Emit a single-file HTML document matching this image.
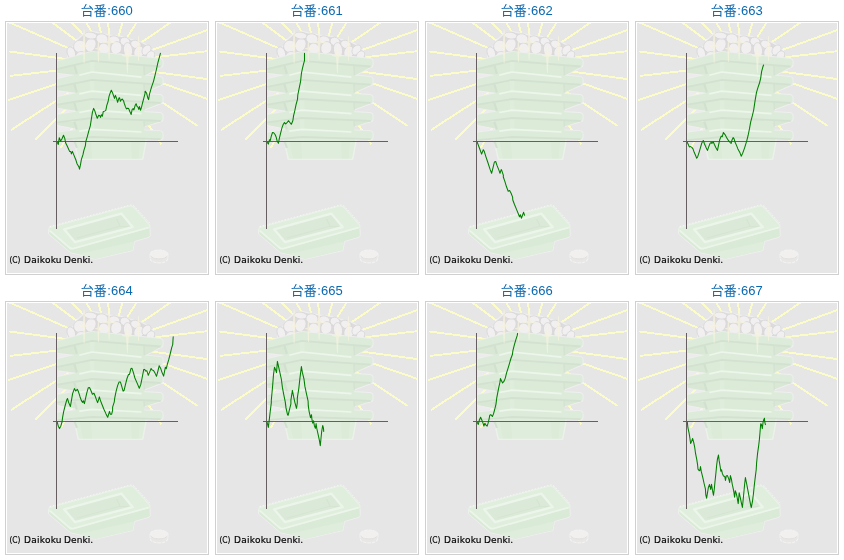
<!DOCTYPE html>
<html lang="ja">
<head>
<meta charset="utf-8">
<title>台番 660-667</title>
<style>
html,body{margin:0;padding:0;background:#fff;}
body{width:844px;height:560px;position:relative;overflow:hidden;font-family:"Liberation Sans","Noto Sans CJK JP",sans-serif;}
.c{position:absolute;width:210px;height:280px;}
.t{position:absolute;left:0;top:3px;width:214px;text-align:center;font-size:13px;line-height:16px;color:#0a69b0;white-space:nowrap;}
.j{position:relative;left:-0.6px;}
.f{position:absolute;left:5px;top:21px;width:200px;height:250px;border:1px solid #d0d0d0;padding:1px;background:#fff;}
.f svg{display:block;width:200px;height:250px;}
</style>
</head>
<body>
<div class="c" style="left:0px;top:0px">
<div class="t"><span class="j">台番</span>:660</div>
<div class="f"><svg width="200" height="250" viewBox="0 0 200 250">
<rect width="200" height="250" fill="#e6e6e6"/>
<polygon points="50.4,102.3 50.4,109.3 67.5,105.5" fill="#ececec"/>
<polygon points="50.4,84.9 50.4,91.5 67.5,87.7" fill="#ececec"/>
<polygon points="50.4,67.5 50.4,73.7 67.5,69.9" fill="#ececec"/>
<polygon points="50.4,50.1 50.4,55.9 67.5,52.1" fill="#ececec"/>
<g stroke="#fcfcc8" stroke-width="1.9" stroke-linecap="butt" shape-rendering="crispEdges">
<line x1="73.8" y1="30.5" x2="1.8" y2="-0.8"/>
<line x1="77.2" y1="23.3" x2="44.4" y2="-1.2"/>
<line x1="84.7" y1="20.7" x2="63.8" y2="-1.5"/>
<line x1="92.7" y1="22.9" x2="78.5" y2="-1.7"/>
<line x1="97.4" y1="23.6" x2="91.0" y2="-1.9"/>
<line x1="103.2" y1="24.0" x2="101.0" y2="-2.0"/>
<line x1="107.8" y1="24.7" x2="116.1" y2="-1.9"/>
<line x1="112.7" y1="26.2" x2="130.4" y2="-1.7"/>
<line x1="124.8" y1="25.8" x2="164.5" y2="-1.1"/>
<line x1="132.4" y1="31.6" x2="201.9" y2="6.5"/>
<line x1="139.5" y1="35.2" x2="202.0" y2="28.0"/>
<line x1="135.9" y1="47.4" x2="202.0" y2="56.3"/>
<line x1="144.3" y1="56.5" x2="201.9" y2="76.4"/>
<line x1="129.3" y1="61.8" x2="190.7" y2="103.0"/>
<line x1="135.1" y1="92.2" x2="154.5" y2="121.5"/>
<line x1="60.2" y1="36.1" x2="2.4" y2="28.5"/>
<line x1="59.7" y1="46.4" x2="3.0" y2="52.9"/>
<line x1="58.0" y1="58.2" x2="0.8" y2="77.3"/>
<line x1="72.8" y1="62.5" x2="4.0" y2="107.0"/>
<line x1="67.1" y1="77.6" x2="28.1" y2="116.7"/>
<line x1="72.8" y1="92.7" x2="53.8" y2="124.7"/>
</g>
<path d="M60.7,34 L61.4,27 L67.1,22.7 L70.7,16.3 L77.9,9.9 L85,8.4 L95,10.6 L105.7,12.7 L114.3,13.4 L123.6,16.3 L134.3,19.1 L141.4,22.7 L145.7,27.7 L148.6,33.4 L149,38 L60,38 Z" fill="#dddbdb" stroke="#efefef" stroke-width="1.2" stroke-linejoin="round"/>
<g fill="#f1efef" stroke="#d6d4d4" stroke-width="0.7">
<ellipse cx="64.3" cy="29.9" rx="4" ry="6.2" transform="rotate(-20 64.3 29.9)"/>
<ellipse cx="72.9" cy="23.4" rx="6.3" ry="6.2" transform="rotate(0 72.9 23.4)"/>
<ellipse cx="83.6" cy="22" rx="5.3" ry="7" transform="rotate(20 83.6 22)"/>
<ellipse cx="83.6" cy="12.6" rx="6.5" ry="3.4" transform="rotate(8 83.6 12.6)"/>
<ellipse cx="95" cy="15.8" rx="6" ry="5" transform="rotate(10 95 15.8)"/>
<ellipse cx="97" cy="26.5" rx="5.5" ry="6.5" transform="rotate(-10 97 26.5)"/>
<ellipse cx="107.5" cy="17" rx="5.5" ry="4" transform="rotate(15 107.5 17)"/>
<ellipse cx="109.3" cy="25" rx="5.5" ry="6.5" transform="rotate(15 109.3 25)"/>
<ellipse cx="118" cy="18.5" rx="5" ry="4.2" transform="rotate(20 118 18.5)"/>
<ellipse cx="121" cy="27" rx="4.5" ry="7.5" transform="rotate(-8 121 27)"/>
<ellipse cx="129" cy="21.5" rx="5.5" ry="4" transform="rotate(25 129 21.5)"/>
<ellipse cx="132" cy="29" rx="5" ry="6" transform="rotate(25 132 29)"/>
<ellipse cx="139.5" cy="27" rx="4" ry="5.5" transform="rotate(35 139.5 27)"/>
<ellipse cx="143.5" cy="32.5" rx="3.8" ry="5" transform="rotate(35 143.5 32.5)"/>
<ellipse cx="74" cy="33" rx="5" ry="4.5" transform="rotate(0 74 33)"/>
<ellipse cx="90" cy="33" rx="5" ry="4.5" transform="rotate(0 90 33)"/>
<ellipse cx="102" cy="34" rx="5" ry="4" transform="rotate(0 102 34)"/>
<ellipse cx="113" cy="34" rx="5" ry="4" transform="rotate(0 113 34)"/>
</g>
<polygon points="50.4,45.8 50.4,49.9 67.0,51.8 70.0,52.1 67.2,41.5" fill="#efefef" stroke="#efefef" stroke-width="1.8" stroke-linejoin="round"/>
<polygon points="154.8,43.5 137.8,52.4 136.6,41.5" fill="#efefef" stroke="#efefef" stroke-width="1.8" stroke-linejoin="round"/>
<path d="M50.4,38.3 L84.5,28.8 L152.8,35.7 Q155.6,36.1 155.6,38.5 L155.6,41.6 Q155.6,44.0 153,43.9 L85,38.0 L50.4,46.3 Z" fill="#efefef" stroke="#efefef" stroke-width="1.8" stroke-linejoin="round"/>
<polygon points="50.4,63.6 50.4,67.3 67.0,69.6 70.0,69.9 67.2,60.6" fill="#efefef" stroke="#efefef" stroke-width="1.8" stroke-linejoin="round"/>
<polygon points="154.8,61.6 137.8,69.3 136.6,59.6" fill="#efefef" stroke="#efefef" stroke-width="1.8" stroke-linejoin="round"/>
<path d="M50.4,56.1 L84.5,47.9 L152.8,53.8 Q155.6,54.2 155.6,56.6 L155.6,59.8 Q155.6,62.1 153,62.0 L85,57.1 L50.4,64.1 Z" fill="#efefef" stroke="#efefef" stroke-width="1.8" stroke-linejoin="round"/>
<polygon points="50.4,81.4 50.4,84.7 67.0,87.4 70.0,87.7 67.2,79.7" fill="#efefef" stroke="#efefef" stroke-width="1.8" stroke-linejoin="round"/>
<polygon points="154.8,79.8 137.8,86.3 136.6,77.8" fill="#efefef" stroke="#efefef" stroke-width="1.8" stroke-linejoin="round"/>
<path d="M50.4,73.9 L84.5,67.0 L152.8,71.9 Q155.6,72.3 155.6,74.7 L155.6,77.9 Q155.6,80.3 153,80.2 L85,76.2 L50.4,81.9 Z" fill="#efefef" stroke="#efefef" stroke-width="1.8" stroke-linejoin="round"/>
<polygon points="50.4,99.2 50.4,102.1 67.0,105.2 70.0,105.5 67.2,98.7" fill="#efefef" stroke="#efefef" stroke-width="1.8" stroke-linejoin="round"/>
<polygon points="154.8,97.9 137.8,103.2 136.6,95.9" fill="#efefef" stroke="#efefef" stroke-width="1.8" stroke-linejoin="round"/>
<path d="M50.4,91.7 L84.5,86.1 L152.8,90.0 Q155.6,90.4 155.6,92.8 L155.6,96.0 Q155.6,98.4 153,98.3 L85,95.2 L50.4,99.7 Z" fill="#efefef" stroke="#efefef" stroke-width="1.8" stroke-linejoin="round"/>
<polygon points="66.0,111.2 137.0,110.3 138.9,118.1 135.5,136.2 71.5,136.2 67.3,117.5" fill="#efefef" stroke="#efefef" stroke-width="1.8" stroke-linejoin="round"/>
<path d="M50.4,109.5 L84.5,105.2 L152.8,108.1 Q155.6,108.5 155.6,110.9 L155.6,114.2 Q155.6,116.6 153,116.5 L85,114.2 L50.4,117.5 Z" fill="#efefef" stroke="#efefef" stroke-width="1.8" stroke-linejoin="round"/>
<polygon points="66.0,34.8 137.0,37.9 137.4,57.0 85.0,51.9 69.5,53.9" fill="#dbebd8"/>
<polygon points="50.4,45.8 50.4,49.9 67.0,51.8 70.0,52.1 67.2,41.5" fill="#d8e8d5"/>
<polygon points="154.8,43.5 137.8,52.4 136.6,41.5" fill="#d8e8d5"/>
<path d="M67.2,41.5 L69.9,50.9" stroke="#d2e1cf" stroke-width="2.2" fill="none"/>
<path d="M137.0,43.0 L137.3,52.9" stroke="#d3e1d0" stroke-width="1.2" fill="none"/>
<polygon points="82.5,38.5 87.3,38.8 87.3,48.2 83.3,48.7" fill="#dfeedc"/>
<path d="M50.4,38.3 L84.5,28.8 L152.8,35.7 Q155.6,36.1 155.6,38.5 L155.6,41.6 Q155.6,44.0 153,43.9 L85,38.0 L50.4,46.3 Z" fill="#ddecda"/>
<polyline points="50.4,46.0 85.0,37.8 153.6,43.5" fill="none" stroke="#d3e1d0" stroke-width="1.8"/>
<polygon points="66.0,53.9 137.0,56.0 137.4,75.1 85.0,71.0 69.5,73.0" fill="#dbebd8"/>
<polygon points="50.4,63.6 50.4,67.3 67.0,69.6 70.0,69.9 67.2,60.6" fill="#d8e8d5"/>
<polygon points="154.8,61.6 137.8,69.3 136.6,59.6" fill="#d8e8d5"/>
<path d="M67.2,60.6 L69.9,69.4" stroke="#d2e1cf" stroke-width="2.2" fill="none"/>
<path d="M137.0,61.1 L137.3,69.8" stroke="#d3e1d0" stroke-width="1.2" fill="none"/>
<polygon points="82.5,57.6 87.3,57.9 87.3,67.3 83.3,67.8" fill="#dfeedc"/>
<path d="M50.4,56.1 L84.5,47.9 L152.8,53.8 Q155.6,54.2 155.6,56.6 L155.6,59.8 Q155.6,62.1 153,62.0 L85,57.1 L50.4,64.1 Z" fill="#ddecda"/>
<polyline points="50.4,63.8 85.0,56.9 153.6,61.6" fill="none" stroke="#d3e1d0" stroke-width="1.8"/>
<polyline points="72.3,52.3 84.8,49.0 134.5,54.1" fill="none" stroke="#edf6eb" stroke-width="1.7"/>
<polygon points="66.0,73.0 137.0,74.1 137.4,93.2 85.0,90.1 69.5,92.1" fill="#dbebd8"/>
<polygon points="50.4,81.4 50.4,84.7 67.0,87.4 70.0,87.7 67.2,79.7" fill="#d8e8d5"/>
<polygon points="154.8,79.8 137.8,86.3 136.6,77.8" fill="#d8e8d5"/>
<path d="M67.2,79.7 L69.9,87.9" stroke="#d2e1cf" stroke-width="2.2" fill="none"/>
<path d="M137.0,79.3 L137.3,86.8" stroke="#d3e1d0" stroke-width="1.2" fill="none"/>
<polygon points="82.5,76.7 87.3,77.0 87.3,86.4 83.3,86.9" fill="#dfeedc"/>
<path d="M50.4,73.9 L84.5,67.0 L152.8,71.9 Q155.6,72.3 155.6,74.7 L155.6,77.9 Q155.6,80.3 153,80.2 L85,76.2 L50.4,81.9 Z" fill="#ddecda"/>
<polyline points="50.4,81.6 85.0,76.0 153.6,79.8" fill="none" stroke="#d3e1d0" stroke-width="1.8"/>
<polyline points="72.3,70.9 84.8,68.1 134.5,72.4" fill="none" stroke="#edf6eb" stroke-width="1.7"/>
<polygon points="66.0,92.1 137.0,92.2 137.4,111.3 85.0,109.2 69.5,111.2" fill="#dbebd8"/>
<polygon points="50.4,99.2 50.4,102.1 67.0,105.2 70.0,105.5 67.2,98.7" fill="#d8e8d5"/>
<polygon points="154.8,97.9 137.8,103.2 136.6,95.9" fill="#d8e8d5"/>
<path d="M67.2,98.7 L69.9,106.4" stroke="#d2e1cf" stroke-width="2.2" fill="none"/>
<path d="M137.0,97.4 L137.3,103.8" stroke="#d3e1d0" stroke-width="1.2" fill="none"/>
<polygon points="82.5,95.7 87.3,96.0 87.3,105.5 83.3,106.0" fill="#dfeedc"/>
<path d="M50.4,91.7 L84.5,86.1 L152.8,90.0 Q155.6,90.4 155.6,92.8 L155.6,96.0 Q155.6,98.4 153,98.3 L85,95.2 L50.4,99.7 Z" fill="#ddecda"/>
<polyline points="50.4,99.4 85.0,95.0 153.6,97.9" fill="none" stroke="#d3e1d0" stroke-width="1.8"/>
<polyline points="72.3,89.5 84.8,87.2 134.5,90.7" fill="none" stroke="#edf6eb" stroke-width="1.7"/>
<polygon points="66.0,111.2 137.0,110.3 138.9,118.1 135.5,136.2 71.5,136.2 67.3,117.5" fill="#dfeddc" stroke="#ecf3ea" stroke-width="1"/>
<polygon points="73.0,119.0 84.0,119.0 85.0,135.4 76.0,135.4" fill="#dbebd8"/>
<polygon points="124.0,119.0 133.0,119.0 131.5,135.4 125.0,135.4" fill="#dbebd8"/>
<path d="M67.2,117.8 L69.9,124.9" stroke="#d2e1cf" stroke-width="2.2" fill="none"/>
<path d="M50.4,109.5 L84.5,105.2 L152.8,108.1 Q155.6,108.5 155.6,110.9 L155.6,114.2 Q155.6,116.6 153,116.5 L85,114.2 L50.4,117.5 Z" fill="#ddecda"/>
<polyline points="50.4,117.2 85.0,114.0 153.6,116.1" fill="none" stroke="#d3e1d0" stroke-width="1.8"/>
<polyline points="72.3,108.1 84.8,106.3 134.5,109.0" fill="none" stroke="#edf6eb" stroke-width="1.7"/>
<path d="M76.7,6.3 L77.5,6.3 L78.4,21.4 L83.6,22.4 L83.6,23.0 L78.4,24.0 L77.5,40.6 L76.7,40.6 L75.8,24.0 L71.0,23.0 L71.0,22.4 L75.8,21.4 Z" fill="#f5f3de" fill-opacity="0.75"/>
<path d="M91.0,17.4 L91.8,17.4 L92.3,24.7 L96.4,25.3 L96.4,25.9 L92.3,26.5 L91.8,39.1 L91.0,39.1 L90.5,26.5 L87.9,25.9 L87.9,25.3 L90.5,24.7 Z" fill="#f5f3de" fill-opacity="0.75"/>
<path d="M101.7,7.0 L102.5,7.0 L103.4,17.8 L109.3,18.8 L109.3,19.4 L103.4,20.4 L102.5,36.8 L101.7,36.8 L100.8,20.4 L95.7,19.4 L95.7,18.8 L100.8,17.8 Z" fill="#f5f3de" fill-opacity="0.75"/>
<path d="M120.0,22.0 L120.8,22.0 L121.7,31.3 L125.6,32.3 L125.6,32.9 L121.7,33.9 L120.8,50.0 L120.0,50.0 L119.1,33.9 L115.0,32.9 L115.0,32.3 L119.1,31.3 Z" fill="#f5f3de" fill-opacity="0.75"/>
<path d="M131.1,13.0 L131.9,13.0 L132.4,23.2 L134.5,23.8 L134.5,24.4 L132.4,25.0 L131.9,37.8 L131.1,37.8 L130.6,25.0 L128.5,24.4 L128.5,23.8 L130.6,23.2 Z" fill="#f5f3de" fill-opacity="0.75"/>
<g>
<path d="M63.6,226 L142.9,204 L143.3,212.5 Q143,214 141,214.6 L127.5,218.5 L126,227.5 L88,236.3 L71,231.5 L63.6,229.8 L41.6,211 L41.6,206 Z" fill="#d9ead6" stroke="#efefef" stroke-width="1" stroke-linejoin="round"/>
<path d="M72,231 L126.5,218.5 L125.8,227 L88,236 Z" fill="#dfeddc"/>
<path d="M43.2,204.3 Q40.5,205.8 42.7,208 L62,224.7 Q64,226.5 67,225.7 L141,205 Q144.2,203.8 142.2,201.5 L127,184.5 Q125,182.5 122,183.2 Z" fill="#e0eedd" stroke="#e8f2e6" stroke-width="1.2"/>
<path d="M43,207.6 L62.6,224.6 Q64.3,226 67,225.2 L141.6,204.4" fill="none" stroke="#ebf5e9" stroke-width="1.6" stroke-linejoin="round"/>
<path d="M42.6,203.6 L122,182.3 Q125.6,181.5 127.8,183.8 L143.3,200.8" fill="none" stroke="#f6f6f6" stroke-width="0.9" stroke-dasharray="1.6 1.6"/>
<path d="M57.1,206.3 L114.3,190.6 L125.7,204.1 L67.9,219.1 Z" fill="#dbead8" stroke="#ecf5ea" stroke-width="2.3" stroke-linejoin="round"/>
<path d="M70,215 L112,203.5 L121.5,203.5" fill="none" stroke="#d5e5d2" stroke-width="1"/>
<path d="M109.5,196 L113,203" fill="none" stroke="#d5e5d2" stroke-width="1.4"/>
</g>
<g><path d="M143.2,231.3 L143.2,235.7 A8.8,4.2 0 0 0 160.8,235.7 L160.8,231.3 Z" fill="#e9e7e6" stroke="#f2f2f2" stroke-width="1.1" stroke-dasharray="3.6 0.8"/><ellipse cx="152" cy="231.3" rx="8.8" ry="4.2" fill="#f2f0ef" stroke="#f2f2f2" stroke-width="1.1" stroke-dasharray="3.6 0.8"/><path d="M143.6,232.6 A8.6,4.1 0 0 0 160.4,232.6" fill="none" stroke="#dddbda" stroke-width="0.7"/></g>
<rect x="49" y="30" width="1" height="176" fill="#675e61"/><rect x="46" y="118" width="125" height="1" fill="#675e61"/>
<polyline points="49.9,118.8 51.3,121.4 52.3,114.7 53.6,118.1 55,115.7 56.5,112.2 57.7,115.2 58.7,120.1 60.2,123 62.6,128.4 63.8,128.6 64.4,130.9 65.4,128.4 66.6,131.4 69,137.3 70,140.7 72,144.1 72.5,146.1 73.4,142.2 74.4,136.3 75.9,131.9 76.9,127.4 78.4,122.7 78.8,118.6 80.3,113.7 81.8,107.8 83.3,102.9 84.2,97 85.4,89.3 86.6,85.4 87.8,87.8 89,91.8 90.3,95.2 91.7,92.3 92.9,92.8 93.5,94.4 94.5,91.8 95.4,93.2 96.2,88.8 97.6,88.1 98.8,87.4 99.8,82.4 101.1,78.5 102.1,73.1 103.3,69.7 104.3,67.2 105.5,69.7 106.5,72.6 107.5,75.4 108.4,72.4 109.6,75.4 110.6,79.3 111.9,75.1 112.6,74.8 113.4,78.3 114.5,76.4 115.3,76.1 116.5,77.7 117.3,80.5 118.5,83.9 119.4,85.9 120.4,85.2 121.7,85.6 122.7,88.3 124.2,91.5 125.1,86.6 126.1,85.6 126.9,86.9 128.1,82.6 129.1,80.7 130,83.4 131,84.2 131.8,86.4 132.5,83.6 133.5,87.2 134.5,84.4 135.4,80.5 136.7,75.6 138,70.7 138.1,68.2 139.6,70.1 140.8,75 141.6,76.6 142.5,71.1 144.5,64.2 146.5,58.3 148,52.4 149.4,46.5 150.9,39.7 152.2,34.8 153.4,30.3" fill="none" stroke="#007e00" stroke-width="1.05" stroke-linejoin="round" stroke-linecap="round"/>
<text x="2.4" y="240" font-family="'DejaVu Sans','Liberation Sans',sans-serif" font-size="9" fill="#000" stroke="#000" stroke-width="0.18"><tspan x="2.4" textLength="11" lengthAdjust="spacingAndGlyphs">(C)</tspan> <tspan x="17.05" textLength="37.5" lengthAdjust="spacing">Daikoku</tspan> <tspan x="57.1" textLength="29" lengthAdjust="spacing">Denki.</tspan></text>
</svg></div>
</div>
<div class="c" style="left:210px;top:0px">
<div class="t"><span class="j">台番</span>:661</div>
<div class="f"><svg width="200" height="250" viewBox="0 0 200 250">
<rect width="200" height="250" fill="#e6e6e6"/>
<polygon points="50.4,102.3 50.4,109.3 67.5,105.5" fill="#ececec"/>
<polygon points="50.4,84.9 50.4,91.5 67.5,87.7" fill="#ececec"/>
<polygon points="50.4,67.5 50.4,73.7 67.5,69.9" fill="#ececec"/>
<polygon points="50.4,50.1 50.4,55.9 67.5,52.1" fill="#ececec"/>
<g stroke="#fcfcc8" stroke-width="1.9" stroke-linecap="butt" shape-rendering="crispEdges">
<line x1="73.8" y1="30.5" x2="1.8" y2="-0.8"/>
<line x1="77.2" y1="23.3" x2="44.4" y2="-1.2"/>
<line x1="84.7" y1="20.7" x2="63.8" y2="-1.5"/>
<line x1="92.7" y1="22.9" x2="78.5" y2="-1.7"/>
<line x1="97.4" y1="23.6" x2="91.0" y2="-1.9"/>
<line x1="103.2" y1="24.0" x2="101.0" y2="-2.0"/>
<line x1="107.8" y1="24.7" x2="116.1" y2="-1.9"/>
<line x1="112.7" y1="26.2" x2="130.4" y2="-1.7"/>
<line x1="124.8" y1="25.8" x2="164.5" y2="-1.1"/>
<line x1="132.4" y1="31.6" x2="201.9" y2="6.5"/>
<line x1="139.5" y1="35.2" x2="202.0" y2="28.0"/>
<line x1="135.9" y1="47.4" x2="202.0" y2="56.3"/>
<line x1="144.3" y1="56.5" x2="201.9" y2="76.4"/>
<line x1="129.3" y1="61.8" x2="190.7" y2="103.0"/>
<line x1="135.1" y1="92.2" x2="154.5" y2="121.5"/>
<line x1="60.2" y1="36.1" x2="2.4" y2="28.5"/>
<line x1="59.7" y1="46.4" x2="3.0" y2="52.9"/>
<line x1="58.0" y1="58.2" x2="0.8" y2="77.3"/>
<line x1="72.8" y1="62.5" x2="4.0" y2="107.0"/>
<line x1="67.1" y1="77.6" x2="28.1" y2="116.7"/>
<line x1="72.8" y1="92.7" x2="53.8" y2="124.7"/>
</g>
<path d="M60.7,34 L61.4,27 L67.1,22.7 L70.7,16.3 L77.9,9.9 L85,8.4 L95,10.6 L105.7,12.7 L114.3,13.4 L123.6,16.3 L134.3,19.1 L141.4,22.7 L145.7,27.7 L148.6,33.4 L149,38 L60,38 Z" fill="#dddbdb" stroke="#efefef" stroke-width="1.2" stroke-linejoin="round"/>
<g fill="#f1efef" stroke="#d6d4d4" stroke-width="0.7">
<ellipse cx="64.3" cy="29.9" rx="4" ry="6.2" transform="rotate(-20 64.3 29.9)"/>
<ellipse cx="72.9" cy="23.4" rx="6.3" ry="6.2" transform="rotate(0 72.9 23.4)"/>
<ellipse cx="83.6" cy="22" rx="5.3" ry="7" transform="rotate(20 83.6 22)"/>
<ellipse cx="83.6" cy="12.6" rx="6.5" ry="3.4" transform="rotate(8 83.6 12.6)"/>
<ellipse cx="95" cy="15.8" rx="6" ry="5" transform="rotate(10 95 15.8)"/>
<ellipse cx="97" cy="26.5" rx="5.5" ry="6.5" transform="rotate(-10 97 26.5)"/>
<ellipse cx="107.5" cy="17" rx="5.5" ry="4" transform="rotate(15 107.5 17)"/>
<ellipse cx="109.3" cy="25" rx="5.5" ry="6.5" transform="rotate(15 109.3 25)"/>
<ellipse cx="118" cy="18.5" rx="5" ry="4.2" transform="rotate(20 118 18.5)"/>
<ellipse cx="121" cy="27" rx="4.5" ry="7.5" transform="rotate(-8 121 27)"/>
<ellipse cx="129" cy="21.5" rx="5.5" ry="4" transform="rotate(25 129 21.5)"/>
<ellipse cx="132" cy="29" rx="5" ry="6" transform="rotate(25 132 29)"/>
<ellipse cx="139.5" cy="27" rx="4" ry="5.5" transform="rotate(35 139.5 27)"/>
<ellipse cx="143.5" cy="32.5" rx="3.8" ry="5" transform="rotate(35 143.5 32.5)"/>
<ellipse cx="74" cy="33" rx="5" ry="4.5" transform="rotate(0 74 33)"/>
<ellipse cx="90" cy="33" rx="5" ry="4.5" transform="rotate(0 90 33)"/>
<ellipse cx="102" cy="34" rx="5" ry="4" transform="rotate(0 102 34)"/>
<ellipse cx="113" cy="34" rx="5" ry="4" transform="rotate(0 113 34)"/>
</g>
<polygon points="50.4,45.8 50.4,49.9 67.0,51.8 70.0,52.1 67.2,41.5" fill="#efefef" stroke="#efefef" stroke-width="1.8" stroke-linejoin="round"/>
<polygon points="154.8,43.5 137.8,52.4 136.6,41.5" fill="#efefef" stroke="#efefef" stroke-width="1.8" stroke-linejoin="round"/>
<path d="M50.4,38.3 L84.5,28.8 L152.8,35.7 Q155.6,36.1 155.6,38.5 L155.6,41.6 Q155.6,44.0 153,43.9 L85,38.0 L50.4,46.3 Z" fill="#efefef" stroke="#efefef" stroke-width="1.8" stroke-linejoin="round"/>
<polygon points="50.4,63.6 50.4,67.3 67.0,69.6 70.0,69.9 67.2,60.6" fill="#efefef" stroke="#efefef" stroke-width="1.8" stroke-linejoin="round"/>
<polygon points="154.8,61.6 137.8,69.3 136.6,59.6" fill="#efefef" stroke="#efefef" stroke-width="1.8" stroke-linejoin="round"/>
<path d="M50.4,56.1 L84.5,47.9 L152.8,53.8 Q155.6,54.2 155.6,56.6 L155.6,59.8 Q155.6,62.1 153,62.0 L85,57.1 L50.4,64.1 Z" fill="#efefef" stroke="#efefef" stroke-width="1.8" stroke-linejoin="round"/>
<polygon points="50.4,81.4 50.4,84.7 67.0,87.4 70.0,87.7 67.2,79.7" fill="#efefef" stroke="#efefef" stroke-width="1.8" stroke-linejoin="round"/>
<polygon points="154.8,79.8 137.8,86.3 136.6,77.8" fill="#efefef" stroke="#efefef" stroke-width="1.8" stroke-linejoin="round"/>
<path d="M50.4,73.9 L84.5,67.0 L152.8,71.9 Q155.6,72.3 155.6,74.7 L155.6,77.9 Q155.6,80.3 153,80.2 L85,76.2 L50.4,81.9 Z" fill="#efefef" stroke="#efefef" stroke-width="1.8" stroke-linejoin="round"/>
<polygon points="50.4,99.2 50.4,102.1 67.0,105.2 70.0,105.5 67.2,98.7" fill="#efefef" stroke="#efefef" stroke-width="1.8" stroke-linejoin="round"/>
<polygon points="154.8,97.9 137.8,103.2 136.6,95.9" fill="#efefef" stroke="#efefef" stroke-width="1.8" stroke-linejoin="round"/>
<path d="M50.4,91.7 L84.5,86.1 L152.8,90.0 Q155.6,90.4 155.6,92.8 L155.6,96.0 Q155.6,98.4 153,98.3 L85,95.2 L50.4,99.7 Z" fill="#efefef" stroke="#efefef" stroke-width="1.8" stroke-linejoin="round"/>
<polygon points="66.0,111.2 137.0,110.3 138.9,118.1 135.5,136.2 71.5,136.2 67.3,117.5" fill="#efefef" stroke="#efefef" stroke-width="1.8" stroke-linejoin="round"/>
<path d="M50.4,109.5 L84.5,105.2 L152.8,108.1 Q155.6,108.5 155.6,110.9 L155.6,114.2 Q155.6,116.6 153,116.5 L85,114.2 L50.4,117.5 Z" fill="#efefef" stroke="#efefef" stroke-width="1.8" stroke-linejoin="round"/>
<polygon points="66.0,34.8 137.0,37.9 137.4,57.0 85.0,51.9 69.5,53.9" fill="#dbebd8"/>
<polygon points="50.4,45.8 50.4,49.9 67.0,51.8 70.0,52.1 67.2,41.5" fill="#d8e8d5"/>
<polygon points="154.8,43.5 137.8,52.4 136.6,41.5" fill="#d8e8d5"/>
<path d="M67.2,41.5 L69.9,50.9" stroke="#d2e1cf" stroke-width="2.2" fill="none"/>
<path d="M137.0,43.0 L137.3,52.9" stroke="#d3e1d0" stroke-width="1.2" fill="none"/>
<polygon points="82.5,38.5 87.3,38.8 87.3,48.2 83.3,48.7" fill="#dfeedc"/>
<path d="M50.4,38.3 L84.5,28.8 L152.8,35.7 Q155.6,36.1 155.6,38.5 L155.6,41.6 Q155.6,44.0 153,43.9 L85,38.0 L50.4,46.3 Z" fill="#ddecda"/>
<polyline points="50.4,46.0 85.0,37.8 153.6,43.5" fill="none" stroke="#d3e1d0" stroke-width="1.8"/>
<polygon points="66.0,53.9 137.0,56.0 137.4,75.1 85.0,71.0 69.5,73.0" fill="#dbebd8"/>
<polygon points="50.4,63.6 50.4,67.3 67.0,69.6 70.0,69.9 67.2,60.6" fill="#d8e8d5"/>
<polygon points="154.8,61.6 137.8,69.3 136.6,59.6" fill="#d8e8d5"/>
<path d="M67.2,60.6 L69.9,69.4" stroke="#d2e1cf" stroke-width="2.2" fill="none"/>
<path d="M137.0,61.1 L137.3,69.8" stroke="#d3e1d0" stroke-width="1.2" fill="none"/>
<polygon points="82.5,57.6 87.3,57.9 87.3,67.3 83.3,67.8" fill="#dfeedc"/>
<path d="M50.4,56.1 L84.5,47.9 L152.8,53.8 Q155.6,54.2 155.6,56.6 L155.6,59.8 Q155.6,62.1 153,62.0 L85,57.1 L50.4,64.1 Z" fill="#ddecda"/>
<polyline points="50.4,63.8 85.0,56.9 153.6,61.6" fill="none" stroke="#d3e1d0" stroke-width="1.8"/>
<polyline points="72.3,52.3 84.8,49.0 134.5,54.1" fill="none" stroke="#edf6eb" stroke-width="1.7"/>
<polygon points="66.0,73.0 137.0,74.1 137.4,93.2 85.0,90.1 69.5,92.1" fill="#dbebd8"/>
<polygon points="50.4,81.4 50.4,84.7 67.0,87.4 70.0,87.7 67.2,79.7" fill="#d8e8d5"/>
<polygon points="154.8,79.8 137.8,86.3 136.6,77.8" fill="#d8e8d5"/>
<path d="M67.2,79.7 L69.9,87.9" stroke="#d2e1cf" stroke-width="2.2" fill="none"/>
<path d="M137.0,79.3 L137.3,86.8" stroke="#d3e1d0" stroke-width="1.2" fill="none"/>
<polygon points="82.5,76.7 87.3,77.0 87.3,86.4 83.3,86.9" fill="#dfeedc"/>
<path d="M50.4,73.9 L84.5,67.0 L152.8,71.9 Q155.6,72.3 155.6,74.7 L155.6,77.9 Q155.6,80.3 153,80.2 L85,76.2 L50.4,81.9 Z" fill="#ddecda"/>
<polyline points="50.4,81.6 85.0,76.0 153.6,79.8" fill="none" stroke="#d3e1d0" stroke-width="1.8"/>
<polyline points="72.3,70.9 84.8,68.1 134.5,72.4" fill="none" stroke="#edf6eb" stroke-width="1.7"/>
<polygon points="66.0,92.1 137.0,92.2 137.4,111.3 85.0,109.2 69.5,111.2" fill="#dbebd8"/>
<polygon points="50.4,99.2 50.4,102.1 67.0,105.2 70.0,105.5 67.2,98.7" fill="#d8e8d5"/>
<polygon points="154.8,97.9 137.8,103.2 136.6,95.9" fill="#d8e8d5"/>
<path d="M67.2,98.7 L69.9,106.4" stroke="#d2e1cf" stroke-width="2.2" fill="none"/>
<path d="M137.0,97.4 L137.3,103.8" stroke="#d3e1d0" stroke-width="1.2" fill="none"/>
<polygon points="82.5,95.7 87.3,96.0 87.3,105.5 83.3,106.0" fill="#dfeedc"/>
<path d="M50.4,91.7 L84.5,86.1 L152.8,90.0 Q155.6,90.4 155.6,92.8 L155.6,96.0 Q155.6,98.4 153,98.3 L85,95.2 L50.4,99.7 Z" fill="#ddecda"/>
<polyline points="50.4,99.4 85.0,95.0 153.6,97.9" fill="none" stroke="#d3e1d0" stroke-width="1.8"/>
<polyline points="72.3,89.5 84.8,87.2 134.5,90.7" fill="none" stroke="#edf6eb" stroke-width="1.7"/>
<polygon points="66.0,111.2 137.0,110.3 138.9,118.1 135.5,136.2 71.5,136.2 67.3,117.5" fill="#dfeddc" stroke="#ecf3ea" stroke-width="1"/>
<polygon points="73.0,119.0 84.0,119.0 85.0,135.4 76.0,135.4" fill="#dbebd8"/>
<polygon points="124.0,119.0 133.0,119.0 131.5,135.4 125.0,135.4" fill="#dbebd8"/>
<path d="M67.2,117.8 L69.9,124.9" stroke="#d2e1cf" stroke-width="2.2" fill="none"/>
<path d="M50.4,109.5 L84.5,105.2 L152.8,108.1 Q155.6,108.5 155.6,110.9 L155.6,114.2 Q155.6,116.6 153,116.5 L85,114.2 L50.4,117.5 Z" fill="#ddecda"/>
<polyline points="50.4,117.2 85.0,114.0 153.6,116.1" fill="none" stroke="#d3e1d0" stroke-width="1.8"/>
<polyline points="72.3,108.1 84.8,106.3 134.5,109.0" fill="none" stroke="#edf6eb" stroke-width="1.7"/>
<path d="M76.7,6.3 L77.5,6.3 L78.4,21.4 L83.6,22.4 L83.6,23.0 L78.4,24.0 L77.5,40.6 L76.7,40.6 L75.8,24.0 L71.0,23.0 L71.0,22.4 L75.8,21.4 Z" fill="#f5f3de" fill-opacity="0.75"/>
<path d="M91.0,17.4 L91.8,17.4 L92.3,24.7 L96.4,25.3 L96.4,25.9 L92.3,26.5 L91.8,39.1 L91.0,39.1 L90.5,26.5 L87.9,25.9 L87.9,25.3 L90.5,24.7 Z" fill="#f5f3de" fill-opacity="0.75"/>
<path d="M101.7,7.0 L102.5,7.0 L103.4,17.8 L109.3,18.8 L109.3,19.4 L103.4,20.4 L102.5,36.8 L101.7,36.8 L100.8,20.4 L95.7,19.4 L95.7,18.8 L100.8,17.8 Z" fill="#f5f3de" fill-opacity="0.75"/>
<path d="M120.0,22.0 L120.8,22.0 L121.7,31.3 L125.6,32.3 L125.6,32.9 L121.7,33.9 L120.8,50.0 L120.0,50.0 L119.1,33.9 L115.0,32.9 L115.0,32.3 L119.1,31.3 Z" fill="#f5f3de" fill-opacity="0.75"/>
<path d="M131.1,13.0 L131.9,13.0 L132.4,23.2 L134.5,23.8 L134.5,24.4 L132.4,25.0 L131.9,37.8 L131.1,37.8 L130.6,25.0 L128.5,24.4 L128.5,23.8 L130.6,23.2 Z" fill="#f5f3de" fill-opacity="0.75"/>
<g>
<path d="M63.6,226 L142.9,204 L143.3,212.5 Q143,214 141,214.6 L127.5,218.5 L126,227.5 L88,236.3 L71,231.5 L63.6,229.8 L41.6,211 L41.6,206 Z" fill="#d9ead6" stroke="#efefef" stroke-width="1" stroke-linejoin="round"/>
<path d="M72,231 L126.5,218.5 L125.8,227 L88,236 Z" fill="#dfeddc"/>
<path d="M43.2,204.3 Q40.5,205.8 42.7,208 L62,224.7 Q64,226.5 67,225.7 L141,205 Q144.2,203.8 142.2,201.5 L127,184.5 Q125,182.5 122,183.2 Z" fill="#e0eedd" stroke="#e8f2e6" stroke-width="1.2"/>
<path d="M43,207.6 L62.6,224.6 Q64.3,226 67,225.2 L141.6,204.4" fill="none" stroke="#ebf5e9" stroke-width="1.6" stroke-linejoin="round"/>
<path d="M42.6,203.6 L122,182.3 Q125.6,181.5 127.8,183.8 L143.3,200.8" fill="none" stroke="#f6f6f6" stroke-width="0.9" stroke-dasharray="1.6 1.6"/>
<path d="M57.1,206.3 L114.3,190.6 L125.7,204.1 L67.9,219.1 Z" fill="#dbead8" stroke="#ecf5ea" stroke-width="2.3" stroke-linejoin="round"/>
<path d="M70,215 L112,203.5 L121.5,203.5" fill="none" stroke="#d5e5d2" stroke-width="1"/>
<path d="M109.5,196 L113,203" fill="none" stroke="#d5e5d2" stroke-width="1.4"/>
</g>
<g><path d="M143.2,231.3 L143.2,235.7 A8.8,4.2 0 0 0 160.8,235.7 L160.8,231.3 Z" fill="#e9e7e6" stroke="#f2f2f2" stroke-width="1.1" stroke-dasharray="3.6 0.8"/><ellipse cx="152" cy="231.3" rx="8.8" ry="4.2" fill="#f2f0ef" stroke="#f2f2f2" stroke-width="1.1" stroke-dasharray="3.6 0.8"/><path d="M143.6,232.6 A8.6,4.1 0 0 0 160.4,232.6" fill="none" stroke="#dddbda" stroke-width="0.7"/></g>
<rect x="49" y="30" width="1" height="176" fill="#675e61"/><rect x="46" y="118" width="125" height="1" fill="#675e61"/>
<polyline points="50,118.9 51.3,121.1 52.6,116.7 53.3,117.4 54.3,113.2 55.5,109.5 56.7,109.8 58.2,111.8 59.2,114.2 60.1,118 61.4,120.3 62.4,115.2 63.8,109.3 65.1,104.4 66.3,101.3 67.5,99.5 68.7,101 70,99.7 71.4,97.7 72.9,99.5 74.4,101.3 75.9,97.5 76.5,93.1 77.8,87.7 79.1,81.3 80.5,76.4 80.8,72 82.4,64.2 83.6,58.3 84.4,50.5 85.4,45.6 86.5,41.1 87.5,37.7 87.5,30.3" fill="none" stroke="#007e00" stroke-width="1.05" stroke-linejoin="round" stroke-linecap="round"/>
<text x="2.4" y="240" font-family="'DejaVu Sans','Liberation Sans',sans-serif" font-size="9" fill="#000" stroke="#000" stroke-width="0.18"><tspan x="2.4" textLength="11" lengthAdjust="spacingAndGlyphs">(C)</tspan> <tspan x="17.05" textLength="37.5" lengthAdjust="spacing">Daikoku</tspan> <tspan x="57.1" textLength="29" lengthAdjust="spacing">Denki.</tspan></text>
</svg></div>
</div>
<div class="c" style="left:420px;top:0px">
<div class="t"><span class="j">台番</span>:662</div>
<div class="f"><svg width="200" height="250" viewBox="0 0 200 250">
<rect width="200" height="250" fill="#e6e6e6"/>
<polygon points="50.4,102.3 50.4,109.3 67.5,105.5" fill="#ececec"/>
<polygon points="50.4,84.9 50.4,91.5 67.5,87.7" fill="#ececec"/>
<polygon points="50.4,67.5 50.4,73.7 67.5,69.9" fill="#ececec"/>
<polygon points="50.4,50.1 50.4,55.9 67.5,52.1" fill="#ececec"/>
<g stroke="#fcfcc8" stroke-width="1.9" stroke-linecap="butt" shape-rendering="crispEdges">
<line x1="73.8" y1="30.5" x2="1.8" y2="-0.8"/>
<line x1="77.2" y1="23.3" x2="44.4" y2="-1.2"/>
<line x1="84.7" y1="20.7" x2="63.8" y2="-1.5"/>
<line x1="92.7" y1="22.9" x2="78.5" y2="-1.7"/>
<line x1="97.4" y1="23.6" x2="91.0" y2="-1.9"/>
<line x1="103.2" y1="24.0" x2="101.0" y2="-2.0"/>
<line x1="107.8" y1="24.7" x2="116.1" y2="-1.9"/>
<line x1="112.7" y1="26.2" x2="130.4" y2="-1.7"/>
<line x1="124.8" y1="25.8" x2="164.5" y2="-1.1"/>
<line x1="132.4" y1="31.6" x2="201.9" y2="6.5"/>
<line x1="139.5" y1="35.2" x2="202.0" y2="28.0"/>
<line x1="135.9" y1="47.4" x2="202.0" y2="56.3"/>
<line x1="144.3" y1="56.5" x2="201.9" y2="76.4"/>
<line x1="129.3" y1="61.8" x2="190.7" y2="103.0"/>
<line x1="135.1" y1="92.2" x2="154.5" y2="121.5"/>
<line x1="60.2" y1="36.1" x2="2.4" y2="28.5"/>
<line x1="59.7" y1="46.4" x2="3.0" y2="52.9"/>
<line x1="58.0" y1="58.2" x2="0.8" y2="77.3"/>
<line x1="72.8" y1="62.5" x2="4.0" y2="107.0"/>
<line x1="67.1" y1="77.6" x2="28.1" y2="116.7"/>
<line x1="72.8" y1="92.7" x2="53.8" y2="124.7"/>
</g>
<path d="M60.7,34 L61.4,27 L67.1,22.7 L70.7,16.3 L77.9,9.9 L85,8.4 L95,10.6 L105.7,12.7 L114.3,13.4 L123.6,16.3 L134.3,19.1 L141.4,22.7 L145.7,27.7 L148.6,33.4 L149,38 L60,38 Z" fill="#dddbdb" stroke="#efefef" stroke-width="1.2" stroke-linejoin="round"/>
<g fill="#f1efef" stroke="#d6d4d4" stroke-width="0.7">
<ellipse cx="64.3" cy="29.9" rx="4" ry="6.2" transform="rotate(-20 64.3 29.9)"/>
<ellipse cx="72.9" cy="23.4" rx="6.3" ry="6.2" transform="rotate(0 72.9 23.4)"/>
<ellipse cx="83.6" cy="22" rx="5.3" ry="7" transform="rotate(20 83.6 22)"/>
<ellipse cx="83.6" cy="12.6" rx="6.5" ry="3.4" transform="rotate(8 83.6 12.6)"/>
<ellipse cx="95" cy="15.8" rx="6" ry="5" transform="rotate(10 95 15.8)"/>
<ellipse cx="97" cy="26.5" rx="5.5" ry="6.5" transform="rotate(-10 97 26.5)"/>
<ellipse cx="107.5" cy="17" rx="5.5" ry="4" transform="rotate(15 107.5 17)"/>
<ellipse cx="109.3" cy="25" rx="5.5" ry="6.5" transform="rotate(15 109.3 25)"/>
<ellipse cx="118" cy="18.5" rx="5" ry="4.2" transform="rotate(20 118 18.5)"/>
<ellipse cx="121" cy="27" rx="4.5" ry="7.5" transform="rotate(-8 121 27)"/>
<ellipse cx="129" cy="21.5" rx="5.5" ry="4" transform="rotate(25 129 21.5)"/>
<ellipse cx="132" cy="29" rx="5" ry="6" transform="rotate(25 132 29)"/>
<ellipse cx="139.5" cy="27" rx="4" ry="5.5" transform="rotate(35 139.5 27)"/>
<ellipse cx="143.5" cy="32.5" rx="3.8" ry="5" transform="rotate(35 143.5 32.5)"/>
<ellipse cx="74" cy="33" rx="5" ry="4.5" transform="rotate(0 74 33)"/>
<ellipse cx="90" cy="33" rx="5" ry="4.5" transform="rotate(0 90 33)"/>
<ellipse cx="102" cy="34" rx="5" ry="4" transform="rotate(0 102 34)"/>
<ellipse cx="113" cy="34" rx="5" ry="4" transform="rotate(0 113 34)"/>
</g>
<polygon points="50.4,45.8 50.4,49.9 67.0,51.8 70.0,52.1 67.2,41.5" fill="#efefef" stroke="#efefef" stroke-width="1.8" stroke-linejoin="round"/>
<polygon points="154.8,43.5 137.8,52.4 136.6,41.5" fill="#efefef" stroke="#efefef" stroke-width="1.8" stroke-linejoin="round"/>
<path d="M50.4,38.3 L84.5,28.8 L152.8,35.7 Q155.6,36.1 155.6,38.5 L155.6,41.6 Q155.6,44.0 153,43.9 L85,38.0 L50.4,46.3 Z" fill="#efefef" stroke="#efefef" stroke-width="1.8" stroke-linejoin="round"/>
<polygon points="50.4,63.6 50.4,67.3 67.0,69.6 70.0,69.9 67.2,60.6" fill="#efefef" stroke="#efefef" stroke-width="1.8" stroke-linejoin="round"/>
<polygon points="154.8,61.6 137.8,69.3 136.6,59.6" fill="#efefef" stroke="#efefef" stroke-width="1.8" stroke-linejoin="round"/>
<path d="M50.4,56.1 L84.5,47.9 L152.8,53.8 Q155.6,54.2 155.6,56.6 L155.6,59.8 Q155.6,62.1 153,62.0 L85,57.1 L50.4,64.1 Z" fill="#efefef" stroke="#efefef" stroke-width="1.8" stroke-linejoin="round"/>
<polygon points="50.4,81.4 50.4,84.7 67.0,87.4 70.0,87.7 67.2,79.7" fill="#efefef" stroke="#efefef" stroke-width="1.8" stroke-linejoin="round"/>
<polygon points="154.8,79.8 137.8,86.3 136.6,77.8" fill="#efefef" stroke="#efefef" stroke-width="1.8" stroke-linejoin="round"/>
<path d="M50.4,73.9 L84.5,67.0 L152.8,71.9 Q155.6,72.3 155.6,74.7 L155.6,77.9 Q155.6,80.3 153,80.2 L85,76.2 L50.4,81.9 Z" fill="#efefef" stroke="#efefef" stroke-width="1.8" stroke-linejoin="round"/>
<polygon points="50.4,99.2 50.4,102.1 67.0,105.2 70.0,105.5 67.2,98.7" fill="#efefef" stroke="#efefef" stroke-width="1.8" stroke-linejoin="round"/>
<polygon points="154.8,97.9 137.8,103.2 136.6,95.9" fill="#efefef" stroke="#efefef" stroke-width="1.8" stroke-linejoin="round"/>
<path d="M50.4,91.7 L84.5,86.1 L152.8,90.0 Q155.6,90.4 155.6,92.8 L155.6,96.0 Q155.6,98.4 153,98.3 L85,95.2 L50.4,99.7 Z" fill="#efefef" stroke="#efefef" stroke-width="1.8" stroke-linejoin="round"/>
<polygon points="66.0,111.2 137.0,110.3 138.9,118.1 135.5,136.2 71.5,136.2 67.3,117.5" fill="#efefef" stroke="#efefef" stroke-width="1.8" stroke-linejoin="round"/>
<path d="M50.4,109.5 L84.5,105.2 L152.8,108.1 Q155.6,108.5 155.6,110.9 L155.6,114.2 Q155.6,116.6 153,116.5 L85,114.2 L50.4,117.5 Z" fill="#efefef" stroke="#efefef" stroke-width="1.8" stroke-linejoin="round"/>
<polygon points="66.0,34.8 137.0,37.9 137.4,57.0 85.0,51.9 69.5,53.9" fill="#dbebd8"/>
<polygon points="50.4,45.8 50.4,49.9 67.0,51.8 70.0,52.1 67.2,41.5" fill="#d8e8d5"/>
<polygon points="154.8,43.5 137.8,52.4 136.6,41.5" fill="#d8e8d5"/>
<path d="M67.2,41.5 L69.9,50.9" stroke="#d2e1cf" stroke-width="2.2" fill="none"/>
<path d="M137.0,43.0 L137.3,52.9" stroke="#d3e1d0" stroke-width="1.2" fill="none"/>
<polygon points="82.5,38.5 87.3,38.8 87.3,48.2 83.3,48.7" fill="#dfeedc"/>
<path d="M50.4,38.3 L84.5,28.8 L152.8,35.7 Q155.6,36.1 155.6,38.5 L155.6,41.6 Q155.6,44.0 153,43.9 L85,38.0 L50.4,46.3 Z" fill="#ddecda"/>
<polyline points="50.4,46.0 85.0,37.8 153.6,43.5" fill="none" stroke="#d3e1d0" stroke-width="1.8"/>
<polygon points="66.0,53.9 137.0,56.0 137.4,75.1 85.0,71.0 69.5,73.0" fill="#dbebd8"/>
<polygon points="50.4,63.6 50.4,67.3 67.0,69.6 70.0,69.9 67.2,60.6" fill="#d8e8d5"/>
<polygon points="154.8,61.6 137.8,69.3 136.6,59.6" fill="#d8e8d5"/>
<path d="M67.2,60.6 L69.9,69.4" stroke="#d2e1cf" stroke-width="2.2" fill="none"/>
<path d="M137.0,61.1 L137.3,69.8" stroke="#d3e1d0" stroke-width="1.2" fill="none"/>
<polygon points="82.5,57.6 87.3,57.9 87.3,67.3 83.3,67.8" fill="#dfeedc"/>
<path d="M50.4,56.1 L84.5,47.9 L152.8,53.8 Q155.6,54.2 155.6,56.6 L155.6,59.8 Q155.6,62.1 153,62.0 L85,57.1 L50.4,64.1 Z" fill="#ddecda"/>
<polyline points="50.4,63.8 85.0,56.9 153.6,61.6" fill="none" stroke="#d3e1d0" stroke-width="1.8"/>
<polyline points="72.3,52.3 84.8,49.0 134.5,54.1" fill="none" stroke="#edf6eb" stroke-width="1.7"/>
<polygon points="66.0,73.0 137.0,74.1 137.4,93.2 85.0,90.1 69.5,92.1" fill="#dbebd8"/>
<polygon points="50.4,81.4 50.4,84.7 67.0,87.4 70.0,87.7 67.2,79.7" fill="#d8e8d5"/>
<polygon points="154.8,79.8 137.8,86.3 136.6,77.8" fill="#d8e8d5"/>
<path d="M67.2,79.7 L69.9,87.9" stroke="#d2e1cf" stroke-width="2.2" fill="none"/>
<path d="M137.0,79.3 L137.3,86.8" stroke="#d3e1d0" stroke-width="1.2" fill="none"/>
<polygon points="82.5,76.7 87.3,77.0 87.3,86.4 83.3,86.9" fill="#dfeedc"/>
<path d="M50.4,73.9 L84.5,67.0 L152.8,71.9 Q155.6,72.3 155.6,74.7 L155.6,77.9 Q155.6,80.3 153,80.2 L85,76.2 L50.4,81.9 Z" fill="#ddecda"/>
<polyline points="50.4,81.6 85.0,76.0 153.6,79.8" fill="none" stroke="#d3e1d0" stroke-width="1.8"/>
<polyline points="72.3,70.9 84.8,68.1 134.5,72.4" fill="none" stroke="#edf6eb" stroke-width="1.7"/>
<polygon points="66.0,92.1 137.0,92.2 137.4,111.3 85.0,109.2 69.5,111.2" fill="#dbebd8"/>
<polygon points="50.4,99.2 50.4,102.1 67.0,105.2 70.0,105.5 67.2,98.7" fill="#d8e8d5"/>
<polygon points="154.8,97.9 137.8,103.2 136.6,95.9" fill="#d8e8d5"/>
<path d="M67.2,98.7 L69.9,106.4" stroke="#d2e1cf" stroke-width="2.2" fill="none"/>
<path d="M137.0,97.4 L137.3,103.8" stroke="#d3e1d0" stroke-width="1.2" fill="none"/>
<polygon points="82.5,95.7 87.3,96.0 87.3,105.5 83.3,106.0" fill="#dfeedc"/>
<path d="M50.4,91.7 L84.5,86.1 L152.8,90.0 Q155.6,90.4 155.6,92.8 L155.6,96.0 Q155.6,98.4 153,98.3 L85,95.2 L50.4,99.7 Z" fill="#ddecda"/>
<polyline points="50.4,99.4 85.0,95.0 153.6,97.9" fill="none" stroke="#d3e1d0" stroke-width="1.8"/>
<polyline points="72.3,89.5 84.8,87.2 134.5,90.7" fill="none" stroke="#edf6eb" stroke-width="1.7"/>
<polygon points="66.0,111.2 137.0,110.3 138.9,118.1 135.5,136.2 71.5,136.2 67.3,117.5" fill="#dfeddc" stroke="#ecf3ea" stroke-width="1"/>
<polygon points="73.0,119.0 84.0,119.0 85.0,135.4 76.0,135.4" fill="#dbebd8"/>
<polygon points="124.0,119.0 133.0,119.0 131.5,135.4 125.0,135.4" fill="#dbebd8"/>
<path d="M67.2,117.8 L69.9,124.9" stroke="#d2e1cf" stroke-width="2.2" fill="none"/>
<path d="M50.4,109.5 L84.5,105.2 L152.8,108.1 Q155.6,108.5 155.6,110.9 L155.6,114.2 Q155.6,116.6 153,116.5 L85,114.2 L50.4,117.5 Z" fill="#ddecda"/>
<polyline points="50.4,117.2 85.0,114.0 153.6,116.1" fill="none" stroke="#d3e1d0" stroke-width="1.8"/>
<polyline points="72.3,108.1 84.8,106.3 134.5,109.0" fill="none" stroke="#edf6eb" stroke-width="1.7"/>
<path d="M76.7,6.3 L77.5,6.3 L78.4,21.4 L83.6,22.4 L83.6,23.0 L78.4,24.0 L77.5,40.6 L76.7,40.6 L75.8,24.0 L71.0,23.0 L71.0,22.4 L75.8,21.4 Z" fill="#f5f3de" fill-opacity="0.75"/>
<path d="M91.0,17.4 L91.8,17.4 L92.3,24.7 L96.4,25.3 L96.4,25.9 L92.3,26.5 L91.8,39.1 L91.0,39.1 L90.5,26.5 L87.9,25.9 L87.9,25.3 L90.5,24.7 Z" fill="#f5f3de" fill-opacity="0.75"/>
<path d="M101.7,7.0 L102.5,7.0 L103.4,17.8 L109.3,18.8 L109.3,19.4 L103.4,20.4 L102.5,36.8 L101.7,36.8 L100.8,20.4 L95.7,19.4 L95.7,18.8 L100.8,17.8 Z" fill="#f5f3de" fill-opacity="0.75"/>
<path d="M120.0,22.0 L120.8,22.0 L121.7,31.3 L125.6,32.3 L125.6,32.9 L121.7,33.9 L120.8,50.0 L120.0,50.0 L119.1,33.9 L115.0,32.9 L115.0,32.3 L119.1,31.3 Z" fill="#f5f3de" fill-opacity="0.75"/>
<path d="M131.1,13.0 L131.9,13.0 L132.4,23.2 L134.5,23.8 L134.5,24.4 L132.4,25.0 L131.9,37.8 L131.1,37.8 L130.6,25.0 L128.5,24.4 L128.5,23.8 L130.6,23.2 Z" fill="#f5f3de" fill-opacity="0.75"/>
<g>
<path d="M63.6,226 L142.9,204 L143.3,212.5 Q143,214 141,214.6 L127.5,218.5 L126,227.5 L88,236.3 L71,231.5 L63.6,229.8 L41.6,211 L41.6,206 Z" fill="#d9ead6" stroke="#efefef" stroke-width="1" stroke-linejoin="round"/>
<path d="M72,231 L126.5,218.5 L125.8,227 L88,236 Z" fill="#dfeddc"/>
<path d="M43.2,204.3 Q40.5,205.8 42.7,208 L62,224.7 Q64,226.5 67,225.7 L141,205 Q144.2,203.8 142.2,201.5 L127,184.5 Q125,182.5 122,183.2 Z" fill="#e0eedd" stroke="#e8f2e6" stroke-width="1.2"/>
<path d="M43,207.6 L62.6,224.6 Q64.3,226 67,225.2 L141.6,204.4" fill="none" stroke="#ebf5e9" stroke-width="1.6" stroke-linejoin="round"/>
<path d="M42.6,203.6 L122,182.3 Q125.6,181.5 127.8,183.8 L143.3,200.8" fill="none" stroke="#f6f6f6" stroke-width="0.9" stroke-dasharray="1.6 1.6"/>
<path d="M57.1,206.3 L114.3,190.6 L125.7,204.1 L67.9,219.1 Z" fill="#dbead8" stroke="#ecf5ea" stroke-width="2.3" stroke-linejoin="round"/>
<path d="M70,215 L112,203.5 L121.5,203.5" fill="none" stroke="#d5e5d2" stroke-width="1"/>
<path d="M109.5,196 L113,203" fill="none" stroke="#d5e5d2" stroke-width="1.4"/>
</g>
<g><path d="M143.2,231.3 L143.2,235.7 A8.8,4.2 0 0 0 160.8,235.7 L160.8,231.3 Z" fill="#e9e7e6" stroke="#f2f2f2" stroke-width="1.1" stroke-dasharray="3.6 0.8"/><ellipse cx="152" cy="231.3" rx="8.8" ry="4.2" fill="#f2f0ef" stroke="#f2f2f2" stroke-width="1.1" stroke-dasharray="3.6 0.8"/><path d="M143.6,232.6 A8.6,4.1 0 0 0 160.4,232.6" fill="none" stroke="#dddbda" stroke-width="0.7"/></g>
<rect x="49" y="30" width="1" height="176" fill="#675e61"/><rect x="46" y="118" width="125" height="1" fill="#675e61"/>
<polyline points="50.1,118.9 52.3,124.8 54.6,131.1 56.3,126.7 57.2,128.2 58.7,133.1 61.2,140.5 63.1,146.4 64.6,150.3 66.1,144.4 67.4,139 68.7,138.5 70,142.4 72,147.4 73,150.3 74.2,146.6 74.9,147.8 76.4,152.3 76.3,154 77.7,157.9 79.5,163.8 81.2,168.2 82.6,167.5 84.1,170.2 85.6,174.1 85.8,177 87.5,181.5 89.5,186.4 91.5,191.3 92.5,193.7 93.4,191.8 94.4,195.2 96.6,189.3 97.6,192.3" fill="none" stroke="#007e00" stroke-width="1.05" stroke-linejoin="round" stroke-linecap="round"/>
<text x="2.4" y="240" font-family="'DejaVu Sans','Liberation Sans',sans-serif" font-size="9" fill="#000" stroke="#000" stroke-width="0.18"><tspan x="2.4" textLength="11" lengthAdjust="spacingAndGlyphs">(C)</tspan> <tspan x="17.05" textLength="37.5" lengthAdjust="spacing">Daikoku</tspan> <tspan x="57.1" textLength="29" lengthAdjust="spacing">Denki.</tspan></text>
</svg></div>
</div>
<div class="c" style="left:630px;top:0px">
<div class="t"><span class="j">台番</span>:663</div>
<div class="f"><svg width="200" height="250" viewBox="0 0 200 250">
<rect width="200" height="250" fill="#e6e6e6"/>
<polygon points="50.4,102.3 50.4,109.3 67.5,105.5" fill="#ececec"/>
<polygon points="50.4,84.9 50.4,91.5 67.5,87.7" fill="#ececec"/>
<polygon points="50.4,67.5 50.4,73.7 67.5,69.9" fill="#ececec"/>
<polygon points="50.4,50.1 50.4,55.9 67.5,52.1" fill="#ececec"/>
<g stroke="#fcfcc8" stroke-width="1.9" stroke-linecap="butt" shape-rendering="crispEdges">
<line x1="73.8" y1="30.5" x2="1.8" y2="-0.8"/>
<line x1="77.2" y1="23.3" x2="44.4" y2="-1.2"/>
<line x1="84.7" y1="20.7" x2="63.8" y2="-1.5"/>
<line x1="92.7" y1="22.9" x2="78.5" y2="-1.7"/>
<line x1="97.4" y1="23.6" x2="91.0" y2="-1.9"/>
<line x1="103.2" y1="24.0" x2="101.0" y2="-2.0"/>
<line x1="107.8" y1="24.7" x2="116.1" y2="-1.9"/>
<line x1="112.7" y1="26.2" x2="130.4" y2="-1.7"/>
<line x1="124.8" y1="25.8" x2="164.5" y2="-1.1"/>
<line x1="132.4" y1="31.6" x2="201.9" y2="6.5"/>
<line x1="139.5" y1="35.2" x2="202.0" y2="28.0"/>
<line x1="135.9" y1="47.4" x2="202.0" y2="56.3"/>
<line x1="144.3" y1="56.5" x2="201.9" y2="76.4"/>
<line x1="129.3" y1="61.8" x2="190.7" y2="103.0"/>
<line x1="135.1" y1="92.2" x2="154.5" y2="121.5"/>
<line x1="60.2" y1="36.1" x2="2.4" y2="28.5"/>
<line x1="59.7" y1="46.4" x2="3.0" y2="52.9"/>
<line x1="58.0" y1="58.2" x2="0.8" y2="77.3"/>
<line x1="72.8" y1="62.5" x2="4.0" y2="107.0"/>
<line x1="67.1" y1="77.6" x2="28.1" y2="116.7"/>
<line x1="72.8" y1="92.7" x2="53.8" y2="124.7"/>
</g>
<path d="M60.7,34 L61.4,27 L67.1,22.7 L70.7,16.3 L77.9,9.9 L85,8.4 L95,10.6 L105.7,12.7 L114.3,13.4 L123.6,16.3 L134.3,19.1 L141.4,22.7 L145.7,27.7 L148.6,33.4 L149,38 L60,38 Z" fill="#dddbdb" stroke="#efefef" stroke-width="1.2" stroke-linejoin="round"/>
<g fill="#f1efef" stroke="#d6d4d4" stroke-width="0.7">
<ellipse cx="64.3" cy="29.9" rx="4" ry="6.2" transform="rotate(-20 64.3 29.9)"/>
<ellipse cx="72.9" cy="23.4" rx="6.3" ry="6.2" transform="rotate(0 72.9 23.4)"/>
<ellipse cx="83.6" cy="22" rx="5.3" ry="7" transform="rotate(20 83.6 22)"/>
<ellipse cx="83.6" cy="12.6" rx="6.5" ry="3.4" transform="rotate(8 83.6 12.6)"/>
<ellipse cx="95" cy="15.8" rx="6" ry="5" transform="rotate(10 95 15.8)"/>
<ellipse cx="97" cy="26.5" rx="5.5" ry="6.5" transform="rotate(-10 97 26.5)"/>
<ellipse cx="107.5" cy="17" rx="5.5" ry="4" transform="rotate(15 107.5 17)"/>
<ellipse cx="109.3" cy="25" rx="5.5" ry="6.5" transform="rotate(15 109.3 25)"/>
<ellipse cx="118" cy="18.5" rx="5" ry="4.2" transform="rotate(20 118 18.5)"/>
<ellipse cx="121" cy="27" rx="4.5" ry="7.5" transform="rotate(-8 121 27)"/>
<ellipse cx="129" cy="21.5" rx="5.5" ry="4" transform="rotate(25 129 21.5)"/>
<ellipse cx="132" cy="29" rx="5" ry="6" transform="rotate(25 132 29)"/>
<ellipse cx="139.5" cy="27" rx="4" ry="5.5" transform="rotate(35 139.5 27)"/>
<ellipse cx="143.5" cy="32.5" rx="3.8" ry="5" transform="rotate(35 143.5 32.5)"/>
<ellipse cx="74" cy="33" rx="5" ry="4.5" transform="rotate(0 74 33)"/>
<ellipse cx="90" cy="33" rx="5" ry="4.5" transform="rotate(0 90 33)"/>
<ellipse cx="102" cy="34" rx="5" ry="4" transform="rotate(0 102 34)"/>
<ellipse cx="113" cy="34" rx="5" ry="4" transform="rotate(0 113 34)"/>
</g>
<polygon points="50.4,45.8 50.4,49.9 67.0,51.8 70.0,52.1 67.2,41.5" fill="#efefef" stroke="#efefef" stroke-width="1.8" stroke-linejoin="round"/>
<polygon points="154.8,43.5 137.8,52.4 136.6,41.5" fill="#efefef" stroke="#efefef" stroke-width="1.8" stroke-linejoin="round"/>
<path d="M50.4,38.3 L84.5,28.8 L152.8,35.7 Q155.6,36.1 155.6,38.5 L155.6,41.6 Q155.6,44.0 153,43.9 L85,38.0 L50.4,46.3 Z" fill="#efefef" stroke="#efefef" stroke-width="1.8" stroke-linejoin="round"/>
<polygon points="50.4,63.6 50.4,67.3 67.0,69.6 70.0,69.9 67.2,60.6" fill="#efefef" stroke="#efefef" stroke-width="1.8" stroke-linejoin="round"/>
<polygon points="154.8,61.6 137.8,69.3 136.6,59.6" fill="#efefef" stroke="#efefef" stroke-width="1.8" stroke-linejoin="round"/>
<path d="M50.4,56.1 L84.5,47.9 L152.8,53.8 Q155.6,54.2 155.6,56.6 L155.6,59.8 Q155.6,62.1 153,62.0 L85,57.1 L50.4,64.1 Z" fill="#efefef" stroke="#efefef" stroke-width="1.8" stroke-linejoin="round"/>
<polygon points="50.4,81.4 50.4,84.7 67.0,87.4 70.0,87.7 67.2,79.7" fill="#efefef" stroke="#efefef" stroke-width="1.8" stroke-linejoin="round"/>
<polygon points="154.8,79.8 137.8,86.3 136.6,77.8" fill="#efefef" stroke="#efefef" stroke-width="1.8" stroke-linejoin="round"/>
<path d="M50.4,73.9 L84.5,67.0 L152.8,71.9 Q155.6,72.3 155.6,74.7 L155.6,77.9 Q155.6,80.3 153,80.2 L85,76.2 L50.4,81.9 Z" fill="#efefef" stroke="#efefef" stroke-width="1.8" stroke-linejoin="round"/>
<polygon points="50.4,99.2 50.4,102.1 67.0,105.2 70.0,105.5 67.2,98.7" fill="#efefef" stroke="#efefef" stroke-width="1.8" stroke-linejoin="round"/>
<polygon points="154.8,97.9 137.8,103.2 136.6,95.9" fill="#efefef" stroke="#efefef" stroke-width="1.8" stroke-linejoin="round"/>
<path d="M50.4,91.7 L84.5,86.1 L152.8,90.0 Q155.6,90.4 155.6,92.8 L155.6,96.0 Q155.6,98.4 153,98.3 L85,95.2 L50.4,99.7 Z" fill="#efefef" stroke="#efefef" stroke-width="1.8" stroke-linejoin="round"/>
<polygon points="66.0,111.2 137.0,110.3 138.9,118.1 135.5,136.2 71.5,136.2 67.3,117.5" fill="#efefef" stroke="#efefef" stroke-width="1.8" stroke-linejoin="round"/>
<path d="M50.4,109.5 L84.5,105.2 L152.8,108.1 Q155.6,108.5 155.6,110.9 L155.6,114.2 Q155.6,116.6 153,116.5 L85,114.2 L50.4,117.5 Z" fill="#efefef" stroke="#efefef" stroke-width="1.8" stroke-linejoin="round"/>
<polygon points="66.0,34.8 137.0,37.9 137.4,57.0 85.0,51.9 69.5,53.9" fill="#dbebd8"/>
<polygon points="50.4,45.8 50.4,49.9 67.0,51.8 70.0,52.1 67.2,41.5" fill="#d8e8d5"/>
<polygon points="154.8,43.5 137.8,52.4 136.6,41.5" fill="#d8e8d5"/>
<path d="M67.2,41.5 L69.9,50.9" stroke="#d2e1cf" stroke-width="2.2" fill="none"/>
<path d="M137.0,43.0 L137.3,52.9" stroke="#d3e1d0" stroke-width="1.2" fill="none"/>
<polygon points="82.5,38.5 87.3,38.8 87.3,48.2 83.3,48.7" fill="#dfeedc"/>
<path d="M50.4,38.3 L84.5,28.8 L152.8,35.7 Q155.6,36.1 155.6,38.5 L155.6,41.6 Q155.6,44.0 153,43.9 L85,38.0 L50.4,46.3 Z" fill="#ddecda"/>
<polyline points="50.4,46.0 85.0,37.8 153.6,43.5" fill="none" stroke="#d3e1d0" stroke-width="1.8"/>
<polygon points="66.0,53.9 137.0,56.0 137.4,75.1 85.0,71.0 69.5,73.0" fill="#dbebd8"/>
<polygon points="50.4,63.6 50.4,67.3 67.0,69.6 70.0,69.9 67.2,60.6" fill="#d8e8d5"/>
<polygon points="154.8,61.6 137.8,69.3 136.6,59.6" fill="#d8e8d5"/>
<path d="M67.2,60.6 L69.9,69.4" stroke="#d2e1cf" stroke-width="2.2" fill="none"/>
<path d="M137.0,61.1 L137.3,69.8" stroke="#d3e1d0" stroke-width="1.2" fill="none"/>
<polygon points="82.5,57.6 87.3,57.9 87.3,67.3 83.3,67.8" fill="#dfeedc"/>
<path d="M50.4,56.1 L84.5,47.9 L152.8,53.8 Q155.6,54.2 155.6,56.6 L155.6,59.8 Q155.6,62.1 153,62.0 L85,57.1 L50.4,64.1 Z" fill="#ddecda"/>
<polyline points="50.4,63.8 85.0,56.9 153.6,61.6" fill="none" stroke="#d3e1d0" stroke-width="1.8"/>
<polyline points="72.3,52.3 84.8,49.0 134.5,54.1" fill="none" stroke="#edf6eb" stroke-width="1.7"/>
<polygon points="66.0,73.0 137.0,74.1 137.4,93.2 85.0,90.1 69.5,92.1" fill="#dbebd8"/>
<polygon points="50.4,81.4 50.4,84.7 67.0,87.4 70.0,87.7 67.2,79.7" fill="#d8e8d5"/>
<polygon points="154.8,79.8 137.8,86.3 136.6,77.8" fill="#d8e8d5"/>
<path d="M67.2,79.7 L69.9,87.9" stroke="#d2e1cf" stroke-width="2.2" fill="none"/>
<path d="M137.0,79.3 L137.3,86.8" stroke="#d3e1d0" stroke-width="1.2" fill="none"/>
<polygon points="82.5,76.7 87.3,77.0 87.3,86.4 83.3,86.9" fill="#dfeedc"/>
<path d="M50.4,73.9 L84.5,67.0 L152.8,71.9 Q155.6,72.3 155.6,74.7 L155.6,77.9 Q155.6,80.3 153,80.2 L85,76.2 L50.4,81.9 Z" fill="#ddecda"/>
<polyline points="50.4,81.6 85.0,76.0 153.6,79.8" fill="none" stroke="#d3e1d0" stroke-width="1.8"/>
<polyline points="72.3,70.9 84.8,68.1 134.5,72.4" fill="none" stroke="#edf6eb" stroke-width="1.7"/>
<polygon points="66.0,92.1 137.0,92.2 137.4,111.3 85.0,109.2 69.5,111.2" fill="#dbebd8"/>
<polygon points="50.4,99.2 50.4,102.1 67.0,105.2 70.0,105.5 67.2,98.7" fill="#d8e8d5"/>
<polygon points="154.8,97.9 137.8,103.2 136.6,95.9" fill="#d8e8d5"/>
<path d="M67.2,98.7 L69.9,106.4" stroke="#d2e1cf" stroke-width="2.2" fill="none"/>
<path d="M137.0,97.4 L137.3,103.8" stroke="#d3e1d0" stroke-width="1.2" fill="none"/>
<polygon points="82.5,95.7 87.3,96.0 87.3,105.5 83.3,106.0" fill="#dfeedc"/>
<path d="M50.4,91.7 L84.5,86.1 L152.8,90.0 Q155.6,90.4 155.6,92.8 L155.6,96.0 Q155.6,98.4 153,98.3 L85,95.2 L50.4,99.7 Z" fill="#ddecda"/>
<polyline points="50.4,99.4 85.0,95.0 153.6,97.9" fill="none" stroke="#d3e1d0" stroke-width="1.8"/>
<polyline points="72.3,89.5 84.8,87.2 134.5,90.7" fill="none" stroke="#edf6eb" stroke-width="1.7"/>
<polygon points="66.0,111.2 137.0,110.3 138.9,118.1 135.5,136.2 71.5,136.2 67.3,117.5" fill="#dfeddc" stroke="#ecf3ea" stroke-width="1"/>
<polygon points="73.0,119.0 84.0,119.0 85.0,135.4 76.0,135.4" fill="#dbebd8"/>
<polygon points="124.0,119.0 133.0,119.0 131.5,135.4 125.0,135.4" fill="#dbebd8"/>
<path d="M67.2,117.8 L69.9,124.9" stroke="#d2e1cf" stroke-width="2.2" fill="none"/>
<path d="M50.4,109.5 L84.5,105.2 L152.8,108.1 Q155.6,108.5 155.6,110.9 L155.6,114.2 Q155.6,116.6 153,116.5 L85,114.2 L50.4,117.5 Z" fill="#ddecda"/>
<polyline points="50.4,117.2 85.0,114.0 153.6,116.1" fill="none" stroke="#d3e1d0" stroke-width="1.8"/>
<polyline points="72.3,108.1 84.8,106.3 134.5,109.0" fill="none" stroke="#edf6eb" stroke-width="1.7"/>
<path d="M76.7,6.3 L77.5,6.3 L78.4,21.4 L83.6,22.4 L83.6,23.0 L78.4,24.0 L77.5,40.6 L76.7,40.6 L75.8,24.0 L71.0,23.0 L71.0,22.4 L75.8,21.4 Z" fill="#f5f3de" fill-opacity="0.75"/>
<path d="M91.0,17.4 L91.8,17.4 L92.3,24.7 L96.4,25.3 L96.4,25.9 L92.3,26.5 L91.8,39.1 L91.0,39.1 L90.5,26.5 L87.9,25.9 L87.9,25.3 L90.5,24.7 Z" fill="#f5f3de" fill-opacity="0.75"/>
<path d="M101.7,7.0 L102.5,7.0 L103.4,17.8 L109.3,18.8 L109.3,19.4 L103.4,20.4 L102.5,36.8 L101.7,36.8 L100.8,20.4 L95.7,19.4 L95.7,18.8 L100.8,17.8 Z" fill="#f5f3de" fill-opacity="0.75"/>
<path d="M120.0,22.0 L120.8,22.0 L121.7,31.3 L125.6,32.3 L125.6,32.9 L121.7,33.9 L120.8,50.0 L120.0,50.0 L119.1,33.9 L115.0,32.9 L115.0,32.3 L119.1,31.3 Z" fill="#f5f3de" fill-opacity="0.75"/>
<path d="M131.1,13.0 L131.9,13.0 L132.4,23.2 L134.5,23.8 L134.5,24.4 L132.4,25.0 L131.9,37.8 L131.1,37.8 L130.6,25.0 L128.5,24.4 L128.5,23.8 L130.6,23.2 Z" fill="#f5f3de" fill-opacity="0.75"/>
<g>
<path d="M63.6,226 L142.9,204 L143.3,212.5 Q143,214 141,214.6 L127.5,218.5 L126,227.5 L88,236.3 L71,231.5 L63.6,229.8 L41.6,211 L41.6,206 Z" fill="#d9ead6" stroke="#efefef" stroke-width="1" stroke-linejoin="round"/>
<path d="M72,231 L126.5,218.5 L125.8,227 L88,236 Z" fill="#dfeddc"/>
<path d="M43.2,204.3 Q40.5,205.8 42.7,208 L62,224.7 Q64,226.5 67,225.7 L141,205 Q144.2,203.8 142.2,201.5 L127,184.5 Q125,182.5 122,183.2 Z" fill="#e0eedd" stroke="#e8f2e6" stroke-width="1.2"/>
<path d="M43,207.6 L62.6,224.6 Q64.3,226 67,225.2 L141.6,204.4" fill="none" stroke="#ebf5e9" stroke-width="1.6" stroke-linejoin="round"/>
<path d="M42.6,203.6 L122,182.3 Q125.6,181.5 127.8,183.8 L143.3,200.8" fill="none" stroke="#f6f6f6" stroke-width="0.9" stroke-dasharray="1.6 1.6"/>
<path d="M57.1,206.3 L114.3,190.6 L125.7,204.1 L67.9,219.1 Z" fill="#dbead8" stroke="#ecf5ea" stroke-width="2.3" stroke-linejoin="round"/>
<path d="M70,215 L112,203.5 L121.5,203.5" fill="none" stroke="#d5e5d2" stroke-width="1"/>
<path d="M109.5,196 L113,203" fill="none" stroke="#d5e5d2" stroke-width="1.4"/>
</g>
<g><path d="M143.2,231.3 L143.2,235.7 A8.8,4.2 0 0 0 160.8,235.7 L160.8,231.3 Z" fill="#e9e7e6" stroke="#f2f2f2" stroke-width="1.1" stroke-dasharray="3.6 0.8"/><ellipse cx="152" cy="231.3" rx="8.8" ry="4.2" fill="#f2f0ef" stroke="#f2f2f2" stroke-width="1.1" stroke-dasharray="3.6 0.8"/><path d="M143.6,232.6 A8.6,4.1 0 0 0 160.4,232.6" fill="none" stroke="#dddbda" stroke-width="0.7"/></g>
<rect x="49" y="30" width="1" height="176" fill="#675e61"/><rect x="46" y="118" width="125" height="1" fill="#675e61"/>
<polyline points="50.1,119 51.3,121.5 52.3,123.9 53.6,123.6 54.8,124.4 56,125.9 57.2,129.3 58.7,132.8 59.7,135.2 60.7,133.7 62.1,129.3 63.4,124.9 64.8,120 66.3,117.5 67.5,121 69,124.4 70.5,127.4 71.7,123.9 73,120.5 74.2,119.3 74.9,120.5 76.2,118.7 77.4,121.5 78.8,124.4 80.5,127.4 81.5,122.4 82.8,116.5 84.2,113.1 85.2,113.8 86.4,109.5 88,111.6 89.6,114.6 91.6,117.7 93.1,119.5 94.1,120.5 95,117 96.2,114.6 97.2,116.1 98,119 99.5,122.4 100.9,125.9 103,129.8 104.2,133.2 105.7,130.2 107.6,124.8 109.6,118.4 111.1,112.5 112.5,105.7 113.7,98.8 115.3,92.9 116.7,87 118,78.2 119.5,69.3 121,64.4 122.5,60 123.6,55.6 124.6,48.7 125.9,43.8 126.6,42" fill="none" stroke="#007e00" stroke-width="1.05" stroke-linejoin="round" stroke-linecap="round"/>
<text x="2.4" y="240" font-family="'DejaVu Sans','Liberation Sans',sans-serif" font-size="9" fill="#000" stroke="#000" stroke-width="0.18"><tspan x="2.4" textLength="11" lengthAdjust="spacingAndGlyphs">(C)</tspan> <tspan x="17.05" textLength="37.5" lengthAdjust="spacing">Daikoku</tspan> <tspan x="57.1" textLength="29" lengthAdjust="spacing">Denki.</tspan></text>
</svg></div>
</div>
<div class="c" style="left:0px;top:280px">
<div class="t"><span class="j">台番</span>:664</div>
<div class="f"><svg width="200" height="250" viewBox="0 0 200 250">
<rect width="200" height="250" fill="#e6e6e6"/>
<polygon points="50.4,102.3 50.4,109.3 67.5,105.5" fill="#ececec"/>
<polygon points="50.4,84.9 50.4,91.5 67.5,87.7" fill="#ececec"/>
<polygon points="50.4,67.5 50.4,73.7 67.5,69.9" fill="#ececec"/>
<polygon points="50.4,50.1 50.4,55.9 67.5,52.1" fill="#ececec"/>
<g stroke="#fcfcc8" stroke-width="1.9" stroke-linecap="butt" shape-rendering="crispEdges">
<line x1="73.8" y1="30.5" x2="1.8" y2="-0.8"/>
<line x1="77.2" y1="23.3" x2="44.4" y2="-1.2"/>
<line x1="84.7" y1="20.7" x2="63.8" y2="-1.5"/>
<line x1="92.7" y1="22.9" x2="78.5" y2="-1.7"/>
<line x1="97.4" y1="23.6" x2="91.0" y2="-1.9"/>
<line x1="103.2" y1="24.0" x2="101.0" y2="-2.0"/>
<line x1="107.8" y1="24.7" x2="116.1" y2="-1.9"/>
<line x1="112.7" y1="26.2" x2="130.4" y2="-1.7"/>
<line x1="124.8" y1="25.8" x2="164.5" y2="-1.1"/>
<line x1="132.4" y1="31.6" x2="201.9" y2="6.5"/>
<line x1="139.5" y1="35.2" x2="202.0" y2="28.0"/>
<line x1="135.9" y1="47.4" x2="202.0" y2="56.3"/>
<line x1="144.3" y1="56.5" x2="201.9" y2="76.4"/>
<line x1="129.3" y1="61.8" x2="190.7" y2="103.0"/>
<line x1="135.1" y1="92.2" x2="154.5" y2="121.5"/>
<line x1="60.2" y1="36.1" x2="2.4" y2="28.5"/>
<line x1="59.7" y1="46.4" x2="3.0" y2="52.9"/>
<line x1="58.0" y1="58.2" x2="0.8" y2="77.3"/>
<line x1="72.8" y1="62.5" x2="4.0" y2="107.0"/>
<line x1="67.1" y1="77.6" x2="28.1" y2="116.7"/>
<line x1="72.8" y1="92.7" x2="53.8" y2="124.7"/>
</g>
<path d="M60.7,34 L61.4,27 L67.1,22.7 L70.7,16.3 L77.9,9.9 L85,8.4 L95,10.6 L105.7,12.7 L114.3,13.4 L123.6,16.3 L134.3,19.1 L141.4,22.7 L145.7,27.7 L148.6,33.4 L149,38 L60,38 Z" fill="#dddbdb" stroke="#efefef" stroke-width="1.2" stroke-linejoin="round"/>
<g fill="#f1efef" stroke="#d6d4d4" stroke-width="0.7">
<ellipse cx="64.3" cy="29.9" rx="4" ry="6.2" transform="rotate(-20 64.3 29.9)"/>
<ellipse cx="72.9" cy="23.4" rx="6.3" ry="6.2" transform="rotate(0 72.9 23.4)"/>
<ellipse cx="83.6" cy="22" rx="5.3" ry="7" transform="rotate(20 83.6 22)"/>
<ellipse cx="83.6" cy="12.6" rx="6.5" ry="3.4" transform="rotate(8 83.6 12.6)"/>
<ellipse cx="95" cy="15.8" rx="6" ry="5" transform="rotate(10 95 15.8)"/>
<ellipse cx="97" cy="26.5" rx="5.5" ry="6.5" transform="rotate(-10 97 26.5)"/>
<ellipse cx="107.5" cy="17" rx="5.5" ry="4" transform="rotate(15 107.5 17)"/>
<ellipse cx="109.3" cy="25" rx="5.5" ry="6.5" transform="rotate(15 109.3 25)"/>
<ellipse cx="118" cy="18.5" rx="5" ry="4.2" transform="rotate(20 118 18.5)"/>
<ellipse cx="121" cy="27" rx="4.5" ry="7.5" transform="rotate(-8 121 27)"/>
<ellipse cx="129" cy="21.5" rx="5.5" ry="4" transform="rotate(25 129 21.5)"/>
<ellipse cx="132" cy="29" rx="5" ry="6" transform="rotate(25 132 29)"/>
<ellipse cx="139.5" cy="27" rx="4" ry="5.5" transform="rotate(35 139.5 27)"/>
<ellipse cx="143.5" cy="32.5" rx="3.8" ry="5" transform="rotate(35 143.5 32.5)"/>
<ellipse cx="74" cy="33" rx="5" ry="4.5" transform="rotate(0 74 33)"/>
<ellipse cx="90" cy="33" rx="5" ry="4.5" transform="rotate(0 90 33)"/>
<ellipse cx="102" cy="34" rx="5" ry="4" transform="rotate(0 102 34)"/>
<ellipse cx="113" cy="34" rx="5" ry="4" transform="rotate(0 113 34)"/>
</g>
<polygon points="50.4,45.8 50.4,49.9 67.0,51.8 70.0,52.1 67.2,41.5" fill="#efefef" stroke="#efefef" stroke-width="1.8" stroke-linejoin="round"/>
<polygon points="154.8,43.5 137.8,52.4 136.6,41.5" fill="#efefef" stroke="#efefef" stroke-width="1.8" stroke-linejoin="round"/>
<path d="M50.4,38.3 L84.5,28.8 L152.8,35.7 Q155.6,36.1 155.6,38.5 L155.6,41.6 Q155.6,44.0 153,43.9 L85,38.0 L50.4,46.3 Z" fill="#efefef" stroke="#efefef" stroke-width="1.8" stroke-linejoin="round"/>
<polygon points="50.4,63.6 50.4,67.3 67.0,69.6 70.0,69.9 67.2,60.6" fill="#efefef" stroke="#efefef" stroke-width="1.8" stroke-linejoin="round"/>
<polygon points="154.8,61.6 137.8,69.3 136.6,59.6" fill="#efefef" stroke="#efefef" stroke-width="1.8" stroke-linejoin="round"/>
<path d="M50.4,56.1 L84.5,47.9 L152.8,53.8 Q155.6,54.2 155.6,56.6 L155.6,59.8 Q155.6,62.1 153,62.0 L85,57.1 L50.4,64.1 Z" fill="#efefef" stroke="#efefef" stroke-width="1.8" stroke-linejoin="round"/>
<polygon points="50.4,81.4 50.4,84.7 67.0,87.4 70.0,87.7 67.2,79.7" fill="#efefef" stroke="#efefef" stroke-width="1.8" stroke-linejoin="round"/>
<polygon points="154.8,79.8 137.8,86.3 136.6,77.8" fill="#efefef" stroke="#efefef" stroke-width="1.8" stroke-linejoin="round"/>
<path d="M50.4,73.9 L84.5,67.0 L152.8,71.9 Q155.6,72.3 155.6,74.7 L155.6,77.9 Q155.6,80.3 153,80.2 L85,76.2 L50.4,81.9 Z" fill="#efefef" stroke="#efefef" stroke-width="1.8" stroke-linejoin="round"/>
<polygon points="50.4,99.2 50.4,102.1 67.0,105.2 70.0,105.5 67.2,98.7" fill="#efefef" stroke="#efefef" stroke-width="1.8" stroke-linejoin="round"/>
<polygon points="154.8,97.9 137.8,103.2 136.6,95.9" fill="#efefef" stroke="#efefef" stroke-width="1.8" stroke-linejoin="round"/>
<path d="M50.4,91.7 L84.5,86.1 L152.8,90.0 Q155.6,90.4 155.6,92.8 L155.6,96.0 Q155.6,98.4 153,98.3 L85,95.2 L50.4,99.7 Z" fill="#efefef" stroke="#efefef" stroke-width="1.8" stroke-linejoin="round"/>
<polygon points="66.0,111.2 137.0,110.3 138.9,118.1 135.5,136.2 71.5,136.2 67.3,117.5" fill="#efefef" stroke="#efefef" stroke-width="1.8" stroke-linejoin="round"/>
<path d="M50.4,109.5 L84.5,105.2 L152.8,108.1 Q155.6,108.5 155.6,110.9 L155.6,114.2 Q155.6,116.6 153,116.5 L85,114.2 L50.4,117.5 Z" fill="#efefef" stroke="#efefef" stroke-width="1.8" stroke-linejoin="round"/>
<polygon points="66.0,34.8 137.0,37.9 137.4,57.0 85.0,51.9 69.5,53.9" fill="#dbebd8"/>
<polygon points="50.4,45.8 50.4,49.9 67.0,51.8 70.0,52.1 67.2,41.5" fill="#d8e8d5"/>
<polygon points="154.8,43.5 137.8,52.4 136.6,41.5" fill="#d8e8d5"/>
<path d="M67.2,41.5 L69.9,50.9" stroke="#d2e1cf" stroke-width="2.2" fill="none"/>
<path d="M137.0,43.0 L137.3,52.9" stroke="#d3e1d0" stroke-width="1.2" fill="none"/>
<polygon points="82.5,38.5 87.3,38.8 87.3,48.2 83.3,48.7" fill="#dfeedc"/>
<path d="M50.4,38.3 L84.5,28.8 L152.8,35.7 Q155.6,36.1 155.6,38.5 L155.6,41.6 Q155.6,44.0 153,43.9 L85,38.0 L50.4,46.3 Z" fill="#ddecda"/>
<polyline points="50.4,46.0 85.0,37.8 153.6,43.5" fill="none" stroke="#d3e1d0" stroke-width="1.8"/>
<polygon points="66.0,53.9 137.0,56.0 137.4,75.1 85.0,71.0 69.5,73.0" fill="#dbebd8"/>
<polygon points="50.4,63.6 50.4,67.3 67.0,69.6 70.0,69.9 67.2,60.6" fill="#d8e8d5"/>
<polygon points="154.8,61.6 137.8,69.3 136.6,59.6" fill="#d8e8d5"/>
<path d="M67.2,60.6 L69.9,69.4" stroke="#d2e1cf" stroke-width="2.2" fill="none"/>
<path d="M137.0,61.1 L137.3,69.8" stroke="#d3e1d0" stroke-width="1.2" fill="none"/>
<polygon points="82.5,57.6 87.3,57.9 87.3,67.3 83.3,67.8" fill="#dfeedc"/>
<path d="M50.4,56.1 L84.5,47.9 L152.8,53.8 Q155.6,54.2 155.6,56.6 L155.6,59.8 Q155.6,62.1 153,62.0 L85,57.1 L50.4,64.1 Z" fill="#ddecda"/>
<polyline points="50.4,63.8 85.0,56.9 153.6,61.6" fill="none" stroke="#d3e1d0" stroke-width="1.8"/>
<polyline points="72.3,52.3 84.8,49.0 134.5,54.1" fill="none" stroke="#edf6eb" stroke-width="1.7"/>
<polygon points="66.0,73.0 137.0,74.1 137.4,93.2 85.0,90.1 69.5,92.1" fill="#dbebd8"/>
<polygon points="50.4,81.4 50.4,84.7 67.0,87.4 70.0,87.7 67.2,79.7" fill="#d8e8d5"/>
<polygon points="154.8,79.8 137.8,86.3 136.6,77.8" fill="#d8e8d5"/>
<path d="M67.2,79.7 L69.9,87.9" stroke="#d2e1cf" stroke-width="2.2" fill="none"/>
<path d="M137.0,79.3 L137.3,86.8" stroke="#d3e1d0" stroke-width="1.2" fill="none"/>
<polygon points="82.5,76.7 87.3,77.0 87.3,86.4 83.3,86.9" fill="#dfeedc"/>
<path d="M50.4,73.9 L84.5,67.0 L152.8,71.9 Q155.6,72.3 155.6,74.7 L155.6,77.9 Q155.6,80.3 153,80.2 L85,76.2 L50.4,81.9 Z" fill="#ddecda"/>
<polyline points="50.4,81.6 85.0,76.0 153.6,79.8" fill="none" stroke="#d3e1d0" stroke-width="1.8"/>
<polyline points="72.3,70.9 84.8,68.1 134.5,72.4" fill="none" stroke="#edf6eb" stroke-width="1.7"/>
<polygon points="66.0,92.1 137.0,92.2 137.4,111.3 85.0,109.2 69.5,111.2" fill="#dbebd8"/>
<polygon points="50.4,99.2 50.4,102.1 67.0,105.2 70.0,105.5 67.2,98.7" fill="#d8e8d5"/>
<polygon points="154.8,97.9 137.8,103.2 136.6,95.9" fill="#d8e8d5"/>
<path d="M67.2,98.7 L69.9,106.4" stroke="#d2e1cf" stroke-width="2.2" fill="none"/>
<path d="M137.0,97.4 L137.3,103.8" stroke="#d3e1d0" stroke-width="1.2" fill="none"/>
<polygon points="82.5,95.7 87.3,96.0 87.3,105.5 83.3,106.0" fill="#dfeedc"/>
<path d="M50.4,91.7 L84.5,86.1 L152.8,90.0 Q155.6,90.4 155.6,92.8 L155.6,96.0 Q155.6,98.4 153,98.3 L85,95.2 L50.4,99.7 Z" fill="#ddecda"/>
<polyline points="50.4,99.4 85.0,95.0 153.6,97.9" fill="none" stroke="#d3e1d0" stroke-width="1.8"/>
<polyline points="72.3,89.5 84.8,87.2 134.5,90.7" fill="none" stroke="#edf6eb" stroke-width="1.7"/>
<polygon points="66.0,111.2 137.0,110.3 138.9,118.1 135.5,136.2 71.5,136.2 67.3,117.5" fill="#dfeddc" stroke="#ecf3ea" stroke-width="1"/>
<polygon points="73.0,119.0 84.0,119.0 85.0,135.4 76.0,135.4" fill="#dbebd8"/>
<polygon points="124.0,119.0 133.0,119.0 131.5,135.4 125.0,135.4" fill="#dbebd8"/>
<path d="M67.2,117.8 L69.9,124.9" stroke="#d2e1cf" stroke-width="2.2" fill="none"/>
<path d="M50.4,109.5 L84.5,105.2 L152.8,108.1 Q155.6,108.5 155.6,110.9 L155.6,114.2 Q155.6,116.6 153,116.5 L85,114.2 L50.4,117.5 Z" fill="#ddecda"/>
<polyline points="50.4,117.2 85.0,114.0 153.6,116.1" fill="none" stroke="#d3e1d0" stroke-width="1.8"/>
<polyline points="72.3,108.1 84.8,106.3 134.5,109.0" fill="none" stroke="#edf6eb" stroke-width="1.7"/>
<path d="M76.7,6.3 L77.5,6.3 L78.4,21.4 L83.6,22.4 L83.6,23.0 L78.4,24.0 L77.5,40.6 L76.7,40.6 L75.8,24.0 L71.0,23.0 L71.0,22.4 L75.8,21.4 Z" fill="#f5f3de" fill-opacity="0.75"/>
<path d="M91.0,17.4 L91.8,17.4 L92.3,24.7 L96.4,25.3 L96.4,25.9 L92.3,26.5 L91.8,39.1 L91.0,39.1 L90.5,26.5 L87.9,25.9 L87.9,25.3 L90.5,24.7 Z" fill="#f5f3de" fill-opacity="0.75"/>
<path d="M101.7,7.0 L102.5,7.0 L103.4,17.8 L109.3,18.8 L109.3,19.4 L103.4,20.4 L102.5,36.8 L101.7,36.8 L100.8,20.4 L95.7,19.4 L95.7,18.8 L100.8,17.8 Z" fill="#f5f3de" fill-opacity="0.75"/>
<path d="M120.0,22.0 L120.8,22.0 L121.7,31.3 L125.6,32.3 L125.6,32.9 L121.7,33.9 L120.8,50.0 L120.0,50.0 L119.1,33.9 L115.0,32.9 L115.0,32.3 L119.1,31.3 Z" fill="#f5f3de" fill-opacity="0.75"/>
<path d="M131.1,13.0 L131.9,13.0 L132.4,23.2 L134.5,23.8 L134.5,24.4 L132.4,25.0 L131.9,37.8 L131.1,37.8 L130.6,25.0 L128.5,24.4 L128.5,23.8 L130.6,23.2 Z" fill="#f5f3de" fill-opacity="0.75"/>
<g>
<path d="M63.6,226 L142.9,204 L143.3,212.5 Q143,214 141,214.6 L127.5,218.5 L126,227.5 L88,236.3 L71,231.5 L63.6,229.8 L41.6,211 L41.6,206 Z" fill="#d9ead6" stroke="#efefef" stroke-width="1" stroke-linejoin="round"/>
<path d="M72,231 L126.5,218.5 L125.8,227 L88,236 Z" fill="#dfeddc"/>
<path d="M43.2,204.3 Q40.5,205.8 42.7,208 L62,224.7 Q64,226.5 67,225.7 L141,205 Q144.2,203.8 142.2,201.5 L127,184.5 Q125,182.5 122,183.2 Z" fill="#e0eedd" stroke="#e8f2e6" stroke-width="1.2"/>
<path d="M43,207.6 L62.6,224.6 Q64.3,226 67,225.2 L141.6,204.4" fill="none" stroke="#ebf5e9" stroke-width="1.6" stroke-linejoin="round"/>
<path d="M42.6,203.6 L122,182.3 Q125.6,181.5 127.8,183.8 L143.3,200.8" fill="none" stroke="#f6f6f6" stroke-width="0.9" stroke-dasharray="1.6 1.6"/>
<path d="M57.1,206.3 L114.3,190.6 L125.7,204.1 L67.9,219.1 Z" fill="#dbead8" stroke="#ecf5ea" stroke-width="2.3" stroke-linejoin="round"/>
<path d="M70,215 L112,203.5 L121.5,203.5" fill="none" stroke="#d5e5d2" stroke-width="1"/>
<path d="M109.5,196 L113,203" fill="none" stroke="#d5e5d2" stroke-width="1.4"/>
</g>
<g><path d="M143.2,231.3 L143.2,235.7 A8.8,4.2 0 0 0 160.8,235.7 L160.8,231.3 Z" fill="#e9e7e6" stroke="#f2f2f2" stroke-width="1.1" stroke-dasharray="3.6 0.8"/><ellipse cx="152" cy="231.3" rx="8.8" ry="4.2" fill="#f2f0ef" stroke="#f2f2f2" stroke-width="1.1" stroke-dasharray="3.6 0.8"/><path d="M143.6,232.6 A8.6,4.1 0 0 0 160.4,232.6" fill="none" stroke="#dddbda" stroke-width="0.7"/></g>
<rect x="49" y="30" width="1" height="176" fill="#675e61"/><rect x="46" y="118" width="125" height="1" fill="#675e61"/>
<polyline points="50.1,118.7 51.3,123.2 52.5,125.6 53.8,123.2 55,119.2 55.6,114.3 56.7,108.4 58.2,102.5 59.7,97.1 60.5,95.5 61.7,99.6 63.4,103.5 64.4,97.6 65.6,90.7 67.4,85.6 68.7,88 70.3,86.3 71.5,88.8 73,93.7 74.4,97.6 75.6,99.4 76.4,97.8 77.4,100.6 78.5,95.7 79.8,89.8 81.3,84.7 82.5,84.5 83.8,87.3 85.4,91.2 87,90.3 88.2,93.2 89.4,96.6 90.6,99.6 91.6,96.6 92.4,93.9 93.3,97.1 95,101.5 97,106.5 99,110.9 100.7,114.3 102.5,108.4 103.4,111.3 104.6,111.3 105.6,107.4 105.6,104.1 107.3,98.8 107.7,95.1 109.2,87.8 110.7,82.4 112.1,78.9 113.4,78.9 114.6,82.8 116.1,88.2 117.1,87.3 118.5,81.4 120,75.5 121.5,71.5 122.5,71.4 123.9,65.7 124.9,65.2 126.4,69.6 127.9,75 129.8,79.4 132.3,85.3 133.8,81.4 135.2,74.5 136.7,66.6 137.7,66.4 138.7,68.1 139.9,67.8 141.3,72.3 142.6,69.1 144.1,65.5 145.2,67.1 146.5,67.4 148,70.1 149.5,73.3 150.9,68.1 152.2,62.7 153.6,65.2 154.9,69.1 156.6,73.1 157.6,68.2 158.4,64.2 159.3,65.7 160.3,61.3 161.8,56.4 163.3,50.5 164.7,44.6 165.7,41.6 166.2,33.8" fill="none" stroke="#007e00" stroke-width="1.05" stroke-linejoin="round" stroke-linecap="round"/>
<text x="2.4" y="240" font-family="'DejaVu Sans','Liberation Sans',sans-serif" font-size="9" fill="#000" stroke="#000" stroke-width="0.18"><tspan x="2.4" textLength="11" lengthAdjust="spacingAndGlyphs">(C)</tspan> <tspan x="17.05" textLength="37.5" lengthAdjust="spacing">Daikoku</tspan> <tspan x="57.1" textLength="29" lengthAdjust="spacing">Denki.</tspan></text>
</svg></div>
</div>
<div class="c" style="left:210px;top:280px">
<div class="t"><span class="j">台番</span>:665</div>
<div class="f"><svg width="200" height="250" viewBox="0 0 200 250">
<rect width="200" height="250" fill="#e6e6e6"/>
<polygon points="50.4,102.3 50.4,109.3 67.5,105.5" fill="#ececec"/>
<polygon points="50.4,84.9 50.4,91.5 67.5,87.7" fill="#ececec"/>
<polygon points="50.4,67.5 50.4,73.7 67.5,69.9" fill="#ececec"/>
<polygon points="50.4,50.1 50.4,55.9 67.5,52.1" fill="#ececec"/>
<g stroke="#fcfcc8" stroke-width="1.9" stroke-linecap="butt" shape-rendering="crispEdges">
<line x1="73.8" y1="30.5" x2="1.8" y2="-0.8"/>
<line x1="77.2" y1="23.3" x2="44.4" y2="-1.2"/>
<line x1="84.7" y1="20.7" x2="63.8" y2="-1.5"/>
<line x1="92.7" y1="22.9" x2="78.5" y2="-1.7"/>
<line x1="97.4" y1="23.6" x2="91.0" y2="-1.9"/>
<line x1="103.2" y1="24.0" x2="101.0" y2="-2.0"/>
<line x1="107.8" y1="24.7" x2="116.1" y2="-1.9"/>
<line x1="112.7" y1="26.2" x2="130.4" y2="-1.7"/>
<line x1="124.8" y1="25.8" x2="164.5" y2="-1.1"/>
<line x1="132.4" y1="31.6" x2="201.9" y2="6.5"/>
<line x1="139.5" y1="35.2" x2="202.0" y2="28.0"/>
<line x1="135.9" y1="47.4" x2="202.0" y2="56.3"/>
<line x1="144.3" y1="56.5" x2="201.9" y2="76.4"/>
<line x1="129.3" y1="61.8" x2="190.7" y2="103.0"/>
<line x1="135.1" y1="92.2" x2="154.5" y2="121.5"/>
<line x1="60.2" y1="36.1" x2="2.4" y2="28.5"/>
<line x1="59.7" y1="46.4" x2="3.0" y2="52.9"/>
<line x1="58.0" y1="58.2" x2="0.8" y2="77.3"/>
<line x1="72.8" y1="62.5" x2="4.0" y2="107.0"/>
<line x1="67.1" y1="77.6" x2="28.1" y2="116.7"/>
<line x1="72.8" y1="92.7" x2="53.8" y2="124.7"/>
</g>
<path d="M60.7,34 L61.4,27 L67.1,22.7 L70.7,16.3 L77.9,9.9 L85,8.4 L95,10.6 L105.7,12.7 L114.3,13.4 L123.6,16.3 L134.3,19.1 L141.4,22.7 L145.7,27.7 L148.6,33.4 L149,38 L60,38 Z" fill="#dddbdb" stroke="#efefef" stroke-width="1.2" stroke-linejoin="round"/>
<g fill="#f1efef" stroke="#d6d4d4" stroke-width="0.7">
<ellipse cx="64.3" cy="29.9" rx="4" ry="6.2" transform="rotate(-20 64.3 29.9)"/>
<ellipse cx="72.9" cy="23.4" rx="6.3" ry="6.2" transform="rotate(0 72.9 23.4)"/>
<ellipse cx="83.6" cy="22" rx="5.3" ry="7" transform="rotate(20 83.6 22)"/>
<ellipse cx="83.6" cy="12.6" rx="6.5" ry="3.4" transform="rotate(8 83.6 12.6)"/>
<ellipse cx="95" cy="15.8" rx="6" ry="5" transform="rotate(10 95 15.8)"/>
<ellipse cx="97" cy="26.5" rx="5.5" ry="6.5" transform="rotate(-10 97 26.5)"/>
<ellipse cx="107.5" cy="17" rx="5.5" ry="4" transform="rotate(15 107.5 17)"/>
<ellipse cx="109.3" cy="25" rx="5.5" ry="6.5" transform="rotate(15 109.3 25)"/>
<ellipse cx="118" cy="18.5" rx="5" ry="4.2" transform="rotate(20 118 18.5)"/>
<ellipse cx="121" cy="27" rx="4.5" ry="7.5" transform="rotate(-8 121 27)"/>
<ellipse cx="129" cy="21.5" rx="5.5" ry="4" transform="rotate(25 129 21.5)"/>
<ellipse cx="132" cy="29" rx="5" ry="6" transform="rotate(25 132 29)"/>
<ellipse cx="139.5" cy="27" rx="4" ry="5.5" transform="rotate(35 139.5 27)"/>
<ellipse cx="143.5" cy="32.5" rx="3.8" ry="5" transform="rotate(35 143.5 32.5)"/>
<ellipse cx="74" cy="33" rx="5" ry="4.5" transform="rotate(0 74 33)"/>
<ellipse cx="90" cy="33" rx="5" ry="4.5" transform="rotate(0 90 33)"/>
<ellipse cx="102" cy="34" rx="5" ry="4" transform="rotate(0 102 34)"/>
<ellipse cx="113" cy="34" rx="5" ry="4" transform="rotate(0 113 34)"/>
</g>
<polygon points="50.4,45.8 50.4,49.9 67.0,51.8 70.0,52.1 67.2,41.5" fill="#efefef" stroke="#efefef" stroke-width="1.8" stroke-linejoin="round"/>
<polygon points="154.8,43.5 137.8,52.4 136.6,41.5" fill="#efefef" stroke="#efefef" stroke-width="1.8" stroke-linejoin="round"/>
<path d="M50.4,38.3 L84.5,28.8 L152.8,35.7 Q155.6,36.1 155.6,38.5 L155.6,41.6 Q155.6,44.0 153,43.9 L85,38.0 L50.4,46.3 Z" fill="#efefef" stroke="#efefef" stroke-width="1.8" stroke-linejoin="round"/>
<polygon points="50.4,63.6 50.4,67.3 67.0,69.6 70.0,69.9 67.2,60.6" fill="#efefef" stroke="#efefef" stroke-width="1.8" stroke-linejoin="round"/>
<polygon points="154.8,61.6 137.8,69.3 136.6,59.6" fill="#efefef" stroke="#efefef" stroke-width="1.8" stroke-linejoin="round"/>
<path d="M50.4,56.1 L84.5,47.9 L152.8,53.8 Q155.6,54.2 155.6,56.6 L155.6,59.8 Q155.6,62.1 153,62.0 L85,57.1 L50.4,64.1 Z" fill="#efefef" stroke="#efefef" stroke-width="1.8" stroke-linejoin="round"/>
<polygon points="50.4,81.4 50.4,84.7 67.0,87.4 70.0,87.7 67.2,79.7" fill="#efefef" stroke="#efefef" stroke-width="1.8" stroke-linejoin="round"/>
<polygon points="154.8,79.8 137.8,86.3 136.6,77.8" fill="#efefef" stroke="#efefef" stroke-width="1.8" stroke-linejoin="round"/>
<path d="M50.4,73.9 L84.5,67.0 L152.8,71.9 Q155.6,72.3 155.6,74.7 L155.6,77.9 Q155.6,80.3 153,80.2 L85,76.2 L50.4,81.9 Z" fill="#efefef" stroke="#efefef" stroke-width="1.8" stroke-linejoin="round"/>
<polygon points="50.4,99.2 50.4,102.1 67.0,105.2 70.0,105.5 67.2,98.7" fill="#efefef" stroke="#efefef" stroke-width="1.8" stroke-linejoin="round"/>
<polygon points="154.8,97.9 137.8,103.2 136.6,95.9" fill="#efefef" stroke="#efefef" stroke-width="1.8" stroke-linejoin="round"/>
<path d="M50.4,91.7 L84.5,86.1 L152.8,90.0 Q155.6,90.4 155.6,92.8 L155.6,96.0 Q155.6,98.4 153,98.3 L85,95.2 L50.4,99.7 Z" fill="#efefef" stroke="#efefef" stroke-width="1.8" stroke-linejoin="round"/>
<polygon points="66.0,111.2 137.0,110.3 138.9,118.1 135.5,136.2 71.5,136.2 67.3,117.5" fill="#efefef" stroke="#efefef" stroke-width="1.8" stroke-linejoin="round"/>
<path d="M50.4,109.5 L84.5,105.2 L152.8,108.1 Q155.6,108.5 155.6,110.9 L155.6,114.2 Q155.6,116.6 153,116.5 L85,114.2 L50.4,117.5 Z" fill="#efefef" stroke="#efefef" stroke-width="1.8" stroke-linejoin="round"/>
<polygon points="66.0,34.8 137.0,37.9 137.4,57.0 85.0,51.9 69.5,53.9" fill="#dbebd8"/>
<polygon points="50.4,45.8 50.4,49.9 67.0,51.8 70.0,52.1 67.2,41.5" fill="#d8e8d5"/>
<polygon points="154.8,43.5 137.8,52.4 136.6,41.5" fill="#d8e8d5"/>
<path d="M67.2,41.5 L69.9,50.9" stroke="#d2e1cf" stroke-width="2.2" fill="none"/>
<path d="M137.0,43.0 L137.3,52.9" stroke="#d3e1d0" stroke-width="1.2" fill="none"/>
<polygon points="82.5,38.5 87.3,38.8 87.3,48.2 83.3,48.7" fill="#dfeedc"/>
<path d="M50.4,38.3 L84.5,28.8 L152.8,35.7 Q155.6,36.1 155.6,38.5 L155.6,41.6 Q155.6,44.0 153,43.9 L85,38.0 L50.4,46.3 Z" fill="#ddecda"/>
<polyline points="50.4,46.0 85.0,37.8 153.6,43.5" fill="none" stroke="#d3e1d0" stroke-width="1.8"/>
<polygon points="66.0,53.9 137.0,56.0 137.4,75.1 85.0,71.0 69.5,73.0" fill="#dbebd8"/>
<polygon points="50.4,63.6 50.4,67.3 67.0,69.6 70.0,69.9 67.2,60.6" fill="#d8e8d5"/>
<polygon points="154.8,61.6 137.8,69.3 136.6,59.6" fill="#d8e8d5"/>
<path d="M67.2,60.6 L69.9,69.4" stroke="#d2e1cf" stroke-width="2.2" fill="none"/>
<path d="M137.0,61.1 L137.3,69.8" stroke="#d3e1d0" stroke-width="1.2" fill="none"/>
<polygon points="82.5,57.6 87.3,57.9 87.3,67.3 83.3,67.8" fill="#dfeedc"/>
<path d="M50.4,56.1 L84.5,47.9 L152.8,53.8 Q155.6,54.2 155.6,56.6 L155.6,59.8 Q155.6,62.1 153,62.0 L85,57.1 L50.4,64.1 Z" fill="#ddecda"/>
<polyline points="50.4,63.8 85.0,56.9 153.6,61.6" fill="none" stroke="#d3e1d0" stroke-width="1.8"/>
<polyline points="72.3,52.3 84.8,49.0 134.5,54.1" fill="none" stroke="#edf6eb" stroke-width="1.7"/>
<polygon points="66.0,73.0 137.0,74.1 137.4,93.2 85.0,90.1 69.5,92.1" fill="#dbebd8"/>
<polygon points="50.4,81.4 50.4,84.7 67.0,87.4 70.0,87.7 67.2,79.7" fill="#d8e8d5"/>
<polygon points="154.8,79.8 137.8,86.3 136.6,77.8" fill="#d8e8d5"/>
<path d="M67.2,79.7 L69.9,87.9" stroke="#d2e1cf" stroke-width="2.2" fill="none"/>
<path d="M137.0,79.3 L137.3,86.8" stroke="#d3e1d0" stroke-width="1.2" fill="none"/>
<polygon points="82.5,76.7 87.3,77.0 87.3,86.4 83.3,86.9" fill="#dfeedc"/>
<path d="M50.4,73.9 L84.5,67.0 L152.8,71.9 Q155.6,72.3 155.6,74.7 L155.6,77.9 Q155.6,80.3 153,80.2 L85,76.2 L50.4,81.9 Z" fill="#ddecda"/>
<polyline points="50.4,81.6 85.0,76.0 153.6,79.8" fill="none" stroke="#d3e1d0" stroke-width="1.8"/>
<polyline points="72.3,70.9 84.8,68.1 134.5,72.4" fill="none" stroke="#edf6eb" stroke-width="1.7"/>
<polygon points="66.0,92.1 137.0,92.2 137.4,111.3 85.0,109.2 69.5,111.2" fill="#dbebd8"/>
<polygon points="50.4,99.2 50.4,102.1 67.0,105.2 70.0,105.5 67.2,98.7" fill="#d8e8d5"/>
<polygon points="154.8,97.9 137.8,103.2 136.6,95.9" fill="#d8e8d5"/>
<path d="M67.2,98.7 L69.9,106.4" stroke="#d2e1cf" stroke-width="2.2" fill="none"/>
<path d="M137.0,97.4 L137.3,103.8" stroke="#d3e1d0" stroke-width="1.2" fill="none"/>
<polygon points="82.5,95.7 87.3,96.0 87.3,105.5 83.3,106.0" fill="#dfeedc"/>
<path d="M50.4,91.7 L84.5,86.1 L152.8,90.0 Q155.6,90.4 155.6,92.8 L155.6,96.0 Q155.6,98.4 153,98.3 L85,95.2 L50.4,99.7 Z" fill="#ddecda"/>
<polyline points="50.4,99.4 85.0,95.0 153.6,97.9" fill="none" stroke="#d3e1d0" stroke-width="1.8"/>
<polyline points="72.3,89.5 84.8,87.2 134.5,90.7" fill="none" stroke="#edf6eb" stroke-width="1.7"/>
<polygon points="66.0,111.2 137.0,110.3 138.9,118.1 135.5,136.2 71.5,136.2 67.3,117.5" fill="#dfeddc" stroke="#ecf3ea" stroke-width="1"/>
<polygon points="73.0,119.0 84.0,119.0 85.0,135.4 76.0,135.4" fill="#dbebd8"/>
<polygon points="124.0,119.0 133.0,119.0 131.5,135.4 125.0,135.4" fill="#dbebd8"/>
<path d="M67.2,117.8 L69.9,124.9" stroke="#d2e1cf" stroke-width="2.2" fill="none"/>
<path d="M50.4,109.5 L84.5,105.2 L152.8,108.1 Q155.6,108.5 155.6,110.9 L155.6,114.2 Q155.6,116.6 153,116.5 L85,114.2 L50.4,117.5 Z" fill="#ddecda"/>
<polyline points="50.4,117.2 85.0,114.0 153.6,116.1" fill="none" stroke="#d3e1d0" stroke-width="1.8"/>
<polyline points="72.3,108.1 84.8,106.3 134.5,109.0" fill="none" stroke="#edf6eb" stroke-width="1.7"/>
<path d="M76.7,6.3 L77.5,6.3 L78.4,21.4 L83.6,22.4 L83.6,23.0 L78.4,24.0 L77.5,40.6 L76.7,40.6 L75.8,24.0 L71.0,23.0 L71.0,22.4 L75.8,21.4 Z" fill="#f5f3de" fill-opacity="0.75"/>
<path d="M91.0,17.4 L91.8,17.4 L92.3,24.7 L96.4,25.3 L96.4,25.9 L92.3,26.5 L91.8,39.1 L91.0,39.1 L90.5,26.5 L87.9,25.9 L87.9,25.3 L90.5,24.7 Z" fill="#f5f3de" fill-opacity="0.75"/>
<path d="M101.7,7.0 L102.5,7.0 L103.4,17.8 L109.3,18.8 L109.3,19.4 L103.4,20.4 L102.5,36.8 L101.7,36.8 L100.8,20.4 L95.7,19.4 L95.7,18.8 L100.8,17.8 Z" fill="#f5f3de" fill-opacity="0.75"/>
<path d="M120.0,22.0 L120.8,22.0 L121.7,31.3 L125.6,32.3 L125.6,32.9 L121.7,33.9 L120.8,50.0 L120.0,50.0 L119.1,33.9 L115.0,32.9 L115.0,32.3 L119.1,31.3 Z" fill="#f5f3de" fill-opacity="0.75"/>
<path d="M131.1,13.0 L131.9,13.0 L132.4,23.2 L134.5,23.8 L134.5,24.4 L132.4,25.0 L131.9,37.8 L131.1,37.8 L130.6,25.0 L128.5,24.4 L128.5,23.8 L130.6,23.2 Z" fill="#f5f3de" fill-opacity="0.75"/>
<g>
<path d="M63.6,226 L142.9,204 L143.3,212.5 Q143,214 141,214.6 L127.5,218.5 L126,227.5 L88,236.3 L71,231.5 L63.6,229.8 L41.6,211 L41.6,206 Z" fill="#d9ead6" stroke="#efefef" stroke-width="1" stroke-linejoin="round"/>
<path d="M72,231 L126.5,218.5 L125.8,227 L88,236 Z" fill="#dfeddc"/>
<path d="M43.2,204.3 Q40.5,205.8 42.7,208 L62,224.7 Q64,226.5 67,225.7 L141,205 Q144.2,203.8 142.2,201.5 L127,184.5 Q125,182.5 122,183.2 Z" fill="#e0eedd" stroke="#e8f2e6" stroke-width="1.2"/>
<path d="M43,207.6 L62.6,224.6 Q64.3,226 67,225.2 L141.6,204.4" fill="none" stroke="#ebf5e9" stroke-width="1.6" stroke-linejoin="round"/>
<path d="M42.6,203.6 L122,182.3 Q125.6,181.5 127.8,183.8 L143.3,200.8" fill="none" stroke="#f6f6f6" stroke-width="0.9" stroke-dasharray="1.6 1.6"/>
<path d="M57.1,206.3 L114.3,190.6 L125.7,204.1 L67.9,219.1 Z" fill="#dbead8" stroke="#ecf5ea" stroke-width="2.3" stroke-linejoin="round"/>
<path d="M70,215 L112,203.5 L121.5,203.5" fill="none" stroke="#d5e5d2" stroke-width="1"/>
<path d="M109.5,196 L113,203" fill="none" stroke="#d5e5d2" stroke-width="1.4"/>
</g>
<g><path d="M143.2,231.3 L143.2,235.7 A8.8,4.2 0 0 0 160.8,235.7 L160.8,231.3 Z" fill="#e9e7e6" stroke="#f2f2f2" stroke-width="1.1" stroke-dasharray="3.6 0.8"/><ellipse cx="152" cy="231.3" rx="8.8" ry="4.2" fill="#f2f0ef" stroke="#f2f2f2" stroke-width="1.1" stroke-dasharray="3.6 0.8"/><path d="M143.6,232.6 A8.6,4.1 0 0 0 160.4,232.6" fill="none" stroke="#dddbda" stroke-width="0.7"/></g>
<rect x="49" y="30" width="1" height="176" fill="#675e61"/><rect x="46" y="118" width="125" height="1" fill="#675e61"/>
<polyline points="50,118.8 51.3,124.5 52.3,116.6 53.3,107.8 54.3,99.9 54.3,97.2 55.5,84.4 56.5,71.6 57.5,64.3 58.5,66.7 59.5,69.7 60.4,58.4 61.4,62.8 62.8,69.2 64.4,76.5 65.4,84.4 66.7,91.3 68.3,99.1 69,104.9 70.5,111.7 71.2,112.2 72.4,106.8 73.9,100.9 73.9,97.2 75.4,87.4 76.5,93.2 77.8,99.1 78.8,102.9 79.5,105.3 80.3,99.9 80.3,95.2 81.8,85.4 83,74.6 84.4,63.6 85.4,69.7 87,76.1 87.9,83.4 89.6,91.3 91.1,98.2 91.3,102.9 92.2,108.8 93.5,114.7 94.5,111.7 94.9,116.1 95.7,120.1 96.5,117.8 97.4,122.7 98.4,125.3 99.1,120.6 99.8,125.5 101.1,131.4 102.4,137.3 103.3,142.7 104,135.3 104.7,128.4 105.7,122.5 106.5,125.5 106.7,128.4" fill="none" stroke="#007e00" stroke-width="1.05" stroke-linejoin="round" stroke-linecap="round"/>
<text x="2.4" y="240" font-family="'DejaVu Sans','Liberation Sans',sans-serif" font-size="9" fill="#000" stroke="#000" stroke-width="0.18"><tspan x="2.4" textLength="11" lengthAdjust="spacingAndGlyphs">(C)</tspan> <tspan x="17.05" textLength="37.5" lengthAdjust="spacing">Daikoku</tspan> <tspan x="57.1" textLength="29" lengthAdjust="spacing">Denki.</tspan></text>
</svg></div>
</div>
<div class="c" style="left:420px;top:280px">
<div class="t"><span class="j">台番</span>:666</div>
<div class="f"><svg width="200" height="250" viewBox="0 0 200 250">
<rect width="200" height="250" fill="#e6e6e6"/>
<polygon points="50.4,102.3 50.4,109.3 67.5,105.5" fill="#ececec"/>
<polygon points="50.4,84.9 50.4,91.5 67.5,87.7" fill="#ececec"/>
<polygon points="50.4,67.5 50.4,73.7 67.5,69.9" fill="#ececec"/>
<polygon points="50.4,50.1 50.4,55.9 67.5,52.1" fill="#ececec"/>
<g stroke="#fcfcc8" stroke-width="1.9" stroke-linecap="butt" shape-rendering="crispEdges">
<line x1="73.8" y1="30.5" x2="1.8" y2="-0.8"/>
<line x1="77.2" y1="23.3" x2="44.4" y2="-1.2"/>
<line x1="84.7" y1="20.7" x2="63.8" y2="-1.5"/>
<line x1="92.7" y1="22.9" x2="78.5" y2="-1.7"/>
<line x1="97.4" y1="23.6" x2="91.0" y2="-1.9"/>
<line x1="103.2" y1="24.0" x2="101.0" y2="-2.0"/>
<line x1="107.8" y1="24.7" x2="116.1" y2="-1.9"/>
<line x1="112.7" y1="26.2" x2="130.4" y2="-1.7"/>
<line x1="124.8" y1="25.8" x2="164.5" y2="-1.1"/>
<line x1="132.4" y1="31.6" x2="201.9" y2="6.5"/>
<line x1="139.5" y1="35.2" x2="202.0" y2="28.0"/>
<line x1="135.9" y1="47.4" x2="202.0" y2="56.3"/>
<line x1="144.3" y1="56.5" x2="201.9" y2="76.4"/>
<line x1="129.3" y1="61.8" x2="190.7" y2="103.0"/>
<line x1="135.1" y1="92.2" x2="154.5" y2="121.5"/>
<line x1="60.2" y1="36.1" x2="2.4" y2="28.5"/>
<line x1="59.7" y1="46.4" x2="3.0" y2="52.9"/>
<line x1="58.0" y1="58.2" x2="0.8" y2="77.3"/>
<line x1="72.8" y1="62.5" x2="4.0" y2="107.0"/>
<line x1="67.1" y1="77.6" x2="28.1" y2="116.7"/>
<line x1="72.8" y1="92.7" x2="53.8" y2="124.7"/>
</g>
<path d="M60.7,34 L61.4,27 L67.1,22.7 L70.7,16.3 L77.9,9.9 L85,8.4 L95,10.6 L105.7,12.7 L114.3,13.4 L123.6,16.3 L134.3,19.1 L141.4,22.7 L145.7,27.7 L148.6,33.4 L149,38 L60,38 Z" fill="#dddbdb" stroke="#efefef" stroke-width="1.2" stroke-linejoin="round"/>
<g fill="#f1efef" stroke="#d6d4d4" stroke-width="0.7">
<ellipse cx="64.3" cy="29.9" rx="4" ry="6.2" transform="rotate(-20 64.3 29.9)"/>
<ellipse cx="72.9" cy="23.4" rx="6.3" ry="6.2" transform="rotate(0 72.9 23.4)"/>
<ellipse cx="83.6" cy="22" rx="5.3" ry="7" transform="rotate(20 83.6 22)"/>
<ellipse cx="83.6" cy="12.6" rx="6.5" ry="3.4" transform="rotate(8 83.6 12.6)"/>
<ellipse cx="95" cy="15.8" rx="6" ry="5" transform="rotate(10 95 15.8)"/>
<ellipse cx="97" cy="26.5" rx="5.5" ry="6.5" transform="rotate(-10 97 26.5)"/>
<ellipse cx="107.5" cy="17" rx="5.5" ry="4" transform="rotate(15 107.5 17)"/>
<ellipse cx="109.3" cy="25" rx="5.5" ry="6.5" transform="rotate(15 109.3 25)"/>
<ellipse cx="118" cy="18.5" rx="5" ry="4.2" transform="rotate(20 118 18.5)"/>
<ellipse cx="121" cy="27" rx="4.5" ry="7.5" transform="rotate(-8 121 27)"/>
<ellipse cx="129" cy="21.5" rx="5.5" ry="4" transform="rotate(25 129 21.5)"/>
<ellipse cx="132" cy="29" rx="5" ry="6" transform="rotate(25 132 29)"/>
<ellipse cx="139.5" cy="27" rx="4" ry="5.5" transform="rotate(35 139.5 27)"/>
<ellipse cx="143.5" cy="32.5" rx="3.8" ry="5" transform="rotate(35 143.5 32.5)"/>
<ellipse cx="74" cy="33" rx="5" ry="4.5" transform="rotate(0 74 33)"/>
<ellipse cx="90" cy="33" rx="5" ry="4.5" transform="rotate(0 90 33)"/>
<ellipse cx="102" cy="34" rx="5" ry="4" transform="rotate(0 102 34)"/>
<ellipse cx="113" cy="34" rx="5" ry="4" transform="rotate(0 113 34)"/>
</g>
<polygon points="50.4,45.8 50.4,49.9 67.0,51.8 70.0,52.1 67.2,41.5" fill="#efefef" stroke="#efefef" stroke-width="1.8" stroke-linejoin="round"/>
<polygon points="154.8,43.5 137.8,52.4 136.6,41.5" fill="#efefef" stroke="#efefef" stroke-width="1.8" stroke-linejoin="round"/>
<path d="M50.4,38.3 L84.5,28.8 L152.8,35.7 Q155.6,36.1 155.6,38.5 L155.6,41.6 Q155.6,44.0 153,43.9 L85,38.0 L50.4,46.3 Z" fill="#efefef" stroke="#efefef" stroke-width="1.8" stroke-linejoin="round"/>
<polygon points="50.4,63.6 50.4,67.3 67.0,69.6 70.0,69.9 67.2,60.6" fill="#efefef" stroke="#efefef" stroke-width="1.8" stroke-linejoin="round"/>
<polygon points="154.8,61.6 137.8,69.3 136.6,59.6" fill="#efefef" stroke="#efefef" stroke-width="1.8" stroke-linejoin="round"/>
<path d="M50.4,56.1 L84.5,47.9 L152.8,53.8 Q155.6,54.2 155.6,56.6 L155.6,59.8 Q155.6,62.1 153,62.0 L85,57.1 L50.4,64.1 Z" fill="#efefef" stroke="#efefef" stroke-width="1.8" stroke-linejoin="round"/>
<polygon points="50.4,81.4 50.4,84.7 67.0,87.4 70.0,87.7 67.2,79.7" fill="#efefef" stroke="#efefef" stroke-width="1.8" stroke-linejoin="round"/>
<polygon points="154.8,79.8 137.8,86.3 136.6,77.8" fill="#efefef" stroke="#efefef" stroke-width="1.8" stroke-linejoin="round"/>
<path d="M50.4,73.9 L84.5,67.0 L152.8,71.9 Q155.6,72.3 155.6,74.7 L155.6,77.9 Q155.6,80.3 153,80.2 L85,76.2 L50.4,81.9 Z" fill="#efefef" stroke="#efefef" stroke-width="1.8" stroke-linejoin="round"/>
<polygon points="50.4,99.2 50.4,102.1 67.0,105.2 70.0,105.5 67.2,98.7" fill="#efefef" stroke="#efefef" stroke-width="1.8" stroke-linejoin="round"/>
<polygon points="154.8,97.9 137.8,103.2 136.6,95.9" fill="#efefef" stroke="#efefef" stroke-width="1.8" stroke-linejoin="round"/>
<path d="M50.4,91.7 L84.5,86.1 L152.8,90.0 Q155.6,90.4 155.6,92.8 L155.6,96.0 Q155.6,98.4 153,98.3 L85,95.2 L50.4,99.7 Z" fill="#efefef" stroke="#efefef" stroke-width="1.8" stroke-linejoin="round"/>
<polygon points="66.0,111.2 137.0,110.3 138.9,118.1 135.5,136.2 71.5,136.2 67.3,117.5" fill="#efefef" stroke="#efefef" stroke-width="1.8" stroke-linejoin="round"/>
<path d="M50.4,109.5 L84.5,105.2 L152.8,108.1 Q155.6,108.5 155.6,110.9 L155.6,114.2 Q155.6,116.6 153,116.5 L85,114.2 L50.4,117.5 Z" fill="#efefef" stroke="#efefef" stroke-width="1.8" stroke-linejoin="round"/>
<polygon points="66.0,34.8 137.0,37.9 137.4,57.0 85.0,51.9 69.5,53.9" fill="#dbebd8"/>
<polygon points="50.4,45.8 50.4,49.9 67.0,51.8 70.0,52.1 67.2,41.5" fill="#d8e8d5"/>
<polygon points="154.8,43.5 137.8,52.4 136.6,41.5" fill="#d8e8d5"/>
<path d="M67.2,41.5 L69.9,50.9" stroke="#d2e1cf" stroke-width="2.2" fill="none"/>
<path d="M137.0,43.0 L137.3,52.9" stroke="#d3e1d0" stroke-width="1.2" fill="none"/>
<polygon points="82.5,38.5 87.3,38.8 87.3,48.2 83.3,48.7" fill="#dfeedc"/>
<path d="M50.4,38.3 L84.5,28.8 L152.8,35.7 Q155.6,36.1 155.6,38.5 L155.6,41.6 Q155.6,44.0 153,43.9 L85,38.0 L50.4,46.3 Z" fill="#ddecda"/>
<polyline points="50.4,46.0 85.0,37.8 153.6,43.5" fill="none" stroke="#d3e1d0" stroke-width="1.8"/>
<polygon points="66.0,53.9 137.0,56.0 137.4,75.1 85.0,71.0 69.5,73.0" fill="#dbebd8"/>
<polygon points="50.4,63.6 50.4,67.3 67.0,69.6 70.0,69.9 67.2,60.6" fill="#d8e8d5"/>
<polygon points="154.8,61.6 137.8,69.3 136.6,59.6" fill="#d8e8d5"/>
<path d="M67.2,60.6 L69.9,69.4" stroke="#d2e1cf" stroke-width="2.2" fill="none"/>
<path d="M137.0,61.1 L137.3,69.8" stroke="#d3e1d0" stroke-width="1.2" fill="none"/>
<polygon points="82.5,57.6 87.3,57.9 87.3,67.3 83.3,67.8" fill="#dfeedc"/>
<path d="M50.4,56.1 L84.5,47.9 L152.8,53.8 Q155.6,54.2 155.6,56.6 L155.6,59.8 Q155.6,62.1 153,62.0 L85,57.1 L50.4,64.1 Z" fill="#ddecda"/>
<polyline points="50.4,63.8 85.0,56.9 153.6,61.6" fill="none" stroke="#d3e1d0" stroke-width="1.8"/>
<polyline points="72.3,52.3 84.8,49.0 134.5,54.1" fill="none" stroke="#edf6eb" stroke-width="1.7"/>
<polygon points="66.0,73.0 137.0,74.1 137.4,93.2 85.0,90.1 69.5,92.1" fill="#dbebd8"/>
<polygon points="50.4,81.4 50.4,84.7 67.0,87.4 70.0,87.7 67.2,79.7" fill="#d8e8d5"/>
<polygon points="154.8,79.8 137.8,86.3 136.6,77.8" fill="#d8e8d5"/>
<path d="M67.2,79.7 L69.9,87.9" stroke="#d2e1cf" stroke-width="2.2" fill="none"/>
<path d="M137.0,79.3 L137.3,86.8" stroke="#d3e1d0" stroke-width="1.2" fill="none"/>
<polygon points="82.5,76.7 87.3,77.0 87.3,86.4 83.3,86.9" fill="#dfeedc"/>
<path d="M50.4,73.9 L84.5,67.0 L152.8,71.9 Q155.6,72.3 155.6,74.7 L155.6,77.9 Q155.6,80.3 153,80.2 L85,76.2 L50.4,81.9 Z" fill="#ddecda"/>
<polyline points="50.4,81.6 85.0,76.0 153.6,79.8" fill="none" stroke="#d3e1d0" stroke-width="1.8"/>
<polyline points="72.3,70.9 84.8,68.1 134.5,72.4" fill="none" stroke="#edf6eb" stroke-width="1.7"/>
<polygon points="66.0,92.1 137.0,92.2 137.4,111.3 85.0,109.2 69.5,111.2" fill="#dbebd8"/>
<polygon points="50.4,99.2 50.4,102.1 67.0,105.2 70.0,105.5 67.2,98.7" fill="#d8e8d5"/>
<polygon points="154.8,97.9 137.8,103.2 136.6,95.9" fill="#d8e8d5"/>
<path d="M67.2,98.7 L69.9,106.4" stroke="#d2e1cf" stroke-width="2.2" fill="none"/>
<path d="M137.0,97.4 L137.3,103.8" stroke="#d3e1d0" stroke-width="1.2" fill="none"/>
<polygon points="82.5,95.7 87.3,96.0 87.3,105.5 83.3,106.0" fill="#dfeedc"/>
<path d="M50.4,91.7 L84.5,86.1 L152.8,90.0 Q155.6,90.4 155.6,92.8 L155.6,96.0 Q155.6,98.4 153,98.3 L85,95.2 L50.4,99.7 Z" fill="#ddecda"/>
<polyline points="50.4,99.4 85.0,95.0 153.6,97.9" fill="none" stroke="#d3e1d0" stroke-width="1.8"/>
<polyline points="72.3,89.5 84.8,87.2 134.5,90.7" fill="none" stroke="#edf6eb" stroke-width="1.7"/>
<polygon points="66.0,111.2 137.0,110.3 138.9,118.1 135.5,136.2 71.5,136.2 67.3,117.5" fill="#dfeddc" stroke="#ecf3ea" stroke-width="1"/>
<polygon points="73.0,119.0 84.0,119.0 85.0,135.4 76.0,135.4" fill="#dbebd8"/>
<polygon points="124.0,119.0 133.0,119.0 131.5,135.4 125.0,135.4" fill="#dbebd8"/>
<path d="M67.2,117.8 L69.9,124.9" stroke="#d2e1cf" stroke-width="2.2" fill="none"/>
<path d="M50.4,109.5 L84.5,105.2 L152.8,108.1 Q155.6,108.5 155.6,110.9 L155.6,114.2 Q155.6,116.6 153,116.5 L85,114.2 L50.4,117.5 Z" fill="#ddecda"/>
<polyline points="50.4,117.2 85.0,114.0 153.6,116.1" fill="none" stroke="#d3e1d0" stroke-width="1.8"/>
<polyline points="72.3,108.1 84.8,106.3 134.5,109.0" fill="none" stroke="#edf6eb" stroke-width="1.7"/>
<path d="M76.7,6.3 L77.5,6.3 L78.4,21.4 L83.6,22.4 L83.6,23.0 L78.4,24.0 L77.5,40.6 L76.7,40.6 L75.8,24.0 L71.0,23.0 L71.0,22.4 L75.8,21.4 Z" fill="#f5f3de" fill-opacity="0.75"/>
<path d="M91.0,17.4 L91.8,17.4 L92.3,24.7 L96.4,25.3 L96.4,25.9 L92.3,26.5 L91.8,39.1 L91.0,39.1 L90.5,26.5 L87.9,25.9 L87.9,25.3 L90.5,24.7 Z" fill="#f5f3de" fill-opacity="0.75"/>
<path d="M101.7,7.0 L102.5,7.0 L103.4,17.8 L109.3,18.8 L109.3,19.4 L103.4,20.4 L102.5,36.8 L101.7,36.8 L100.8,20.4 L95.7,19.4 L95.7,18.8 L100.8,17.8 Z" fill="#f5f3de" fill-opacity="0.75"/>
<path d="M120.0,22.0 L120.8,22.0 L121.7,31.3 L125.6,32.3 L125.6,32.9 L121.7,33.9 L120.8,50.0 L120.0,50.0 L119.1,33.9 L115.0,32.9 L115.0,32.3 L119.1,31.3 Z" fill="#f5f3de" fill-opacity="0.75"/>
<path d="M131.1,13.0 L131.9,13.0 L132.4,23.2 L134.5,23.8 L134.5,24.4 L132.4,25.0 L131.9,37.8 L131.1,37.8 L130.6,25.0 L128.5,24.4 L128.5,23.8 L130.6,23.2 Z" fill="#f5f3de" fill-opacity="0.75"/>
<g>
<path d="M63.6,226 L142.9,204 L143.3,212.5 Q143,214 141,214.6 L127.5,218.5 L126,227.5 L88,236.3 L71,231.5 L63.6,229.8 L41.6,211 L41.6,206 Z" fill="#d9ead6" stroke="#efefef" stroke-width="1" stroke-linejoin="round"/>
<path d="M72,231 L126.5,218.5 L125.8,227 L88,236 Z" fill="#dfeddc"/>
<path d="M43.2,204.3 Q40.5,205.8 42.7,208 L62,224.7 Q64,226.5 67,225.7 L141,205 Q144.2,203.8 142.2,201.5 L127,184.5 Q125,182.5 122,183.2 Z" fill="#e0eedd" stroke="#e8f2e6" stroke-width="1.2"/>
<path d="M43,207.6 L62.6,224.6 Q64.3,226 67,225.2 L141.6,204.4" fill="none" stroke="#ebf5e9" stroke-width="1.6" stroke-linejoin="round"/>
<path d="M42.6,203.6 L122,182.3 Q125.6,181.5 127.8,183.8 L143.3,200.8" fill="none" stroke="#f6f6f6" stroke-width="0.9" stroke-dasharray="1.6 1.6"/>
<path d="M57.1,206.3 L114.3,190.6 L125.7,204.1 L67.9,219.1 Z" fill="#dbead8" stroke="#ecf5ea" stroke-width="2.3" stroke-linejoin="round"/>
<path d="M70,215 L112,203.5 L121.5,203.5" fill="none" stroke="#d5e5d2" stroke-width="1"/>
<path d="M109.5,196 L113,203" fill="none" stroke="#d5e5d2" stroke-width="1.4"/>
</g>
<g><path d="M143.2,231.3 L143.2,235.7 A8.8,4.2 0 0 0 160.8,235.7 L160.8,231.3 Z" fill="#e9e7e6" stroke="#f2f2f2" stroke-width="1.1" stroke-dasharray="3.6 0.8"/><ellipse cx="152" cy="231.3" rx="8.8" ry="4.2" fill="#f2f0ef" stroke="#f2f2f2" stroke-width="1.1" stroke-dasharray="3.6 0.8"/><path d="M143.6,232.6 A8.6,4.1 0 0 0 160.4,232.6" fill="none" stroke="#dddbda" stroke-width="0.7"/></g>
<rect x="49" y="30" width="1" height="176" fill="#675e61"/><rect x="46" y="118" width="125" height="1" fill="#675e61"/>
<polyline points="50,119 51.3,121.4 52.3,117.3 53.6,114.3 54.7,116.8 55.7,119.2 56.9,123 57.9,120.2 59.2,122.4 60.1,123.2 61.1,120.2 62.1,115.8 62.8,112.2 63.8,111.6 65.4,113.5 66.5,110.9 67.7,106.5 69,101.1 69.7,95.2 70.7,89.8 71.9,83.9 73,79 73.4,75.6 74.6,78.1 75.6,80 77.1,78.1 78.3,75.1 79.5,70.2 81,65.3 82.5,60.4 83.9,55.5 85.4,51.5 85.9,47.6 87.4,41.7 88.8,36.8 90.1,32.9 90.6,30.4" fill="none" stroke="#007e00" stroke-width="1.05" stroke-linejoin="round" stroke-linecap="round"/>
<text x="2.4" y="240" font-family="'DejaVu Sans','Liberation Sans',sans-serif" font-size="9" fill="#000" stroke="#000" stroke-width="0.18"><tspan x="2.4" textLength="11" lengthAdjust="spacingAndGlyphs">(C)</tspan> <tspan x="17.05" textLength="37.5" lengthAdjust="spacing">Daikoku</tspan> <tspan x="57.1" textLength="29" lengthAdjust="spacing">Denki.</tspan></text>
</svg></div>
</div>
<div class="c" style="left:630px;top:280px">
<div class="t"><span class="j">台番</span>:667</div>
<div class="f"><svg width="200" height="250" viewBox="0 0 200 250">
<rect width="200" height="250" fill="#e6e6e6"/>
<polygon points="50.4,102.3 50.4,109.3 67.5,105.5" fill="#ececec"/>
<polygon points="50.4,84.9 50.4,91.5 67.5,87.7" fill="#ececec"/>
<polygon points="50.4,67.5 50.4,73.7 67.5,69.9" fill="#ececec"/>
<polygon points="50.4,50.1 50.4,55.9 67.5,52.1" fill="#ececec"/>
<g stroke="#fcfcc8" stroke-width="1.9" stroke-linecap="butt" shape-rendering="crispEdges">
<line x1="73.8" y1="30.5" x2="1.8" y2="-0.8"/>
<line x1="77.2" y1="23.3" x2="44.4" y2="-1.2"/>
<line x1="84.7" y1="20.7" x2="63.8" y2="-1.5"/>
<line x1="92.7" y1="22.9" x2="78.5" y2="-1.7"/>
<line x1="97.4" y1="23.6" x2="91.0" y2="-1.9"/>
<line x1="103.2" y1="24.0" x2="101.0" y2="-2.0"/>
<line x1="107.8" y1="24.7" x2="116.1" y2="-1.9"/>
<line x1="112.7" y1="26.2" x2="130.4" y2="-1.7"/>
<line x1="124.8" y1="25.8" x2="164.5" y2="-1.1"/>
<line x1="132.4" y1="31.6" x2="201.9" y2="6.5"/>
<line x1="139.5" y1="35.2" x2="202.0" y2="28.0"/>
<line x1="135.9" y1="47.4" x2="202.0" y2="56.3"/>
<line x1="144.3" y1="56.5" x2="201.9" y2="76.4"/>
<line x1="129.3" y1="61.8" x2="190.7" y2="103.0"/>
<line x1="135.1" y1="92.2" x2="154.5" y2="121.5"/>
<line x1="60.2" y1="36.1" x2="2.4" y2="28.5"/>
<line x1="59.7" y1="46.4" x2="3.0" y2="52.9"/>
<line x1="58.0" y1="58.2" x2="0.8" y2="77.3"/>
<line x1="72.8" y1="62.5" x2="4.0" y2="107.0"/>
<line x1="67.1" y1="77.6" x2="28.1" y2="116.7"/>
<line x1="72.8" y1="92.7" x2="53.8" y2="124.7"/>
</g>
<path d="M60.7,34 L61.4,27 L67.1,22.7 L70.7,16.3 L77.9,9.9 L85,8.4 L95,10.6 L105.7,12.7 L114.3,13.4 L123.6,16.3 L134.3,19.1 L141.4,22.7 L145.7,27.7 L148.6,33.4 L149,38 L60,38 Z" fill="#dddbdb" stroke="#efefef" stroke-width="1.2" stroke-linejoin="round"/>
<g fill="#f1efef" stroke="#d6d4d4" stroke-width="0.7">
<ellipse cx="64.3" cy="29.9" rx="4" ry="6.2" transform="rotate(-20 64.3 29.9)"/>
<ellipse cx="72.9" cy="23.4" rx="6.3" ry="6.2" transform="rotate(0 72.9 23.4)"/>
<ellipse cx="83.6" cy="22" rx="5.3" ry="7" transform="rotate(20 83.6 22)"/>
<ellipse cx="83.6" cy="12.6" rx="6.5" ry="3.4" transform="rotate(8 83.6 12.6)"/>
<ellipse cx="95" cy="15.8" rx="6" ry="5" transform="rotate(10 95 15.8)"/>
<ellipse cx="97" cy="26.5" rx="5.5" ry="6.5" transform="rotate(-10 97 26.5)"/>
<ellipse cx="107.5" cy="17" rx="5.5" ry="4" transform="rotate(15 107.5 17)"/>
<ellipse cx="109.3" cy="25" rx="5.5" ry="6.5" transform="rotate(15 109.3 25)"/>
<ellipse cx="118" cy="18.5" rx="5" ry="4.2" transform="rotate(20 118 18.5)"/>
<ellipse cx="121" cy="27" rx="4.5" ry="7.5" transform="rotate(-8 121 27)"/>
<ellipse cx="129" cy="21.5" rx="5.5" ry="4" transform="rotate(25 129 21.5)"/>
<ellipse cx="132" cy="29" rx="5" ry="6" transform="rotate(25 132 29)"/>
<ellipse cx="139.5" cy="27" rx="4" ry="5.5" transform="rotate(35 139.5 27)"/>
<ellipse cx="143.5" cy="32.5" rx="3.8" ry="5" transform="rotate(35 143.5 32.5)"/>
<ellipse cx="74" cy="33" rx="5" ry="4.5" transform="rotate(0 74 33)"/>
<ellipse cx="90" cy="33" rx="5" ry="4.5" transform="rotate(0 90 33)"/>
<ellipse cx="102" cy="34" rx="5" ry="4" transform="rotate(0 102 34)"/>
<ellipse cx="113" cy="34" rx="5" ry="4" transform="rotate(0 113 34)"/>
</g>
<polygon points="50.4,45.8 50.4,49.9 67.0,51.8 70.0,52.1 67.2,41.5" fill="#efefef" stroke="#efefef" stroke-width="1.8" stroke-linejoin="round"/>
<polygon points="154.8,43.5 137.8,52.4 136.6,41.5" fill="#efefef" stroke="#efefef" stroke-width="1.8" stroke-linejoin="round"/>
<path d="M50.4,38.3 L84.5,28.8 L152.8,35.7 Q155.6,36.1 155.6,38.5 L155.6,41.6 Q155.6,44.0 153,43.9 L85,38.0 L50.4,46.3 Z" fill="#efefef" stroke="#efefef" stroke-width="1.8" stroke-linejoin="round"/>
<polygon points="50.4,63.6 50.4,67.3 67.0,69.6 70.0,69.9 67.2,60.6" fill="#efefef" stroke="#efefef" stroke-width="1.8" stroke-linejoin="round"/>
<polygon points="154.8,61.6 137.8,69.3 136.6,59.6" fill="#efefef" stroke="#efefef" stroke-width="1.8" stroke-linejoin="round"/>
<path d="M50.4,56.1 L84.5,47.9 L152.8,53.8 Q155.6,54.2 155.6,56.6 L155.6,59.8 Q155.6,62.1 153,62.0 L85,57.1 L50.4,64.1 Z" fill="#efefef" stroke="#efefef" stroke-width="1.8" stroke-linejoin="round"/>
<polygon points="50.4,81.4 50.4,84.7 67.0,87.4 70.0,87.7 67.2,79.7" fill="#efefef" stroke="#efefef" stroke-width="1.8" stroke-linejoin="round"/>
<polygon points="154.8,79.8 137.8,86.3 136.6,77.8" fill="#efefef" stroke="#efefef" stroke-width="1.8" stroke-linejoin="round"/>
<path d="M50.4,73.9 L84.5,67.0 L152.8,71.9 Q155.6,72.3 155.6,74.7 L155.6,77.9 Q155.6,80.3 153,80.2 L85,76.2 L50.4,81.9 Z" fill="#efefef" stroke="#efefef" stroke-width="1.8" stroke-linejoin="round"/>
<polygon points="50.4,99.2 50.4,102.1 67.0,105.2 70.0,105.5 67.2,98.7" fill="#efefef" stroke="#efefef" stroke-width="1.8" stroke-linejoin="round"/>
<polygon points="154.8,97.9 137.8,103.2 136.6,95.9" fill="#efefef" stroke="#efefef" stroke-width="1.8" stroke-linejoin="round"/>
<path d="M50.4,91.7 L84.5,86.1 L152.8,90.0 Q155.6,90.4 155.6,92.8 L155.6,96.0 Q155.6,98.4 153,98.3 L85,95.2 L50.4,99.7 Z" fill="#efefef" stroke="#efefef" stroke-width="1.8" stroke-linejoin="round"/>
<polygon points="66.0,111.2 137.0,110.3 138.9,118.1 135.5,136.2 71.5,136.2 67.3,117.5" fill="#efefef" stroke="#efefef" stroke-width="1.8" stroke-linejoin="round"/>
<path d="M50.4,109.5 L84.5,105.2 L152.8,108.1 Q155.6,108.5 155.6,110.9 L155.6,114.2 Q155.6,116.6 153,116.5 L85,114.2 L50.4,117.5 Z" fill="#efefef" stroke="#efefef" stroke-width="1.8" stroke-linejoin="round"/>
<polygon points="66.0,34.8 137.0,37.9 137.4,57.0 85.0,51.9 69.5,53.9" fill="#dbebd8"/>
<polygon points="50.4,45.8 50.4,49.9 67.0,51.8 70.0,52.1 67.2,41.5" fill="#d8e8d5"/>
<polygon points="154.8,43.5 137.8,52.4 136.6,41.5" fill="#d8e8d5"/>
<path d="M67.2,41.5 L69.9,50.9" stroke="#d2e1cf" stroke-width="2.2" fill="none"/>
<path d="M137.0,43.0 L137.3,52.9" stroke="#d3e1d0" stroke-width="1.2" fill="none"/>
<polygon points="82.5,38.5 87.3,38.8 87.3,48.2 83.3,48.7" fill="#dfeedc"/>
<path d="M50.4,38.3 L84.5,28.8 L152.8,35.7 Q155.6,36.1 155.6,38.5 L155.6,41.6 Q155.6,44.0 153,43.9 L85,38.0 L50.4,46.3 Z" fill="#ddecda"/>
<polyline points="50.4,46.0 85.0,37.8 153.6,43.5" fill="none" stroke="#d3e1d0" stroke-width="1.8"/>
<polygon points="66.0,53.9 137.0,56.0 137.4,75.1 85.0,71.0 69.5,73.0" fill="#dbebd8"/>
<polygon points="50.4,63.6 50.4,67.3 67.0,69.6 70.0,69.9 67.2,60.6" fill="#d8e8d5"/>
<polygon points="154.8,61.6 137.8,69.3 136.6,59.6" fill="#d8e8d5"/>
<path d="M67.2,60.6 L69.9,69.4" stroke="#d2e1cf" stroke-width="2.2" fill="none"/>
<path d="M137.0,61.1 L137.3,69.8" stroke="#d3e1d0" stroke-width="1.2" fill="none"/>
<polygon points="82.5,57.6 87.3,57.9 87.3,67.3 83.3,67.8" fill="#dfeedc"/>
<path d="M50.4,56.1 L84.5,47.9 L152.8,53.8 Q155.6,54.2 155.6,56.6 L155.6,59.8 Q155.6,62.1 153,62.0 L85,57.1 L50.4,64.1 Z" fill="#ddecda"/>
<polyline points="50.4,63.8 85.0,56.9 153.6,61.6" fill="none" stroke="#d3e1d0" stroke-width="1.8"/>
<polyline points="72.3,52.3 84.8,49.0 134.5,54.1" fill="none" stroke="#edf6eb" stroke-width="1.7"/>
<polygon points="66.0,73.0 137.0,74.1 137.4,93.2 85.0,90.1 69.5,92.1" fill="#dbebd8"/>
<polygon points="50.4,81.4 50.4,84.7 67.0,87.4 70.0,87.7 67.2,79.7" fill="#d8e8d5"/>
<polygon points="154.8,79.8 137.8,86.3 136.6,77.8" fill="#d8e8d5"/>
<path d="M67.2,79.7 L69.9,87.9" stroke="#d2e1cf" stroke-width="2.2" fill="none"/>
<path d="M137.0,79.3 L137.3,86.8" stroke="#d3e1d0" stroke-width="1.2" fill="none"/>
<polygon points="82.5,76.7 87.3,77.0 87.3,86.4 83.3,86.9" fill="#dfeedc"/>
<path d="M50.4,73.9 L84.5,67.0 L152.8,71.9 Q155.6,72.3 155.6,74.7 L155.6,77.9 Q155.6,80.3 153,80.2 L85,76.2 L50.4,81.9 Z" fill="#ddecda"/>
<polyline points="50.4,81.6 85.0,76.0 153.6,79.8" fill="none" stroke="#d3e1d0" stroke-width="1.8"/>
<polyline points="72.3,70.9 84.8,68.1 134.5,72.4" fill="none" stroke="#edf6eb" stroke-width="1.7"/>
<polygon points="66.0,92.1 137.0,92.2 137.4,111.3 85.0,109.2 69.5,111.2" fill="#dbebd8"/>
<polygon points="50.4,99.2 50.4,102.1 67.0,105.2 70.0,105.5 67.2,98.7" fill="#d8e8d5"/>
<polygon points="154.8,97.9 137.8,103.2 136.6,95.9" fill="#d8e8d5"/>
<path d="M67.2,98.7 L69.9,106.4" stroke="#d2e1cf" stroke-width="2.2" fill="none"/>
<path d="M137.0,97.4 L137.3,103.8" stroke="#d3e1d0" stroke-width="1.2" fill="none"/>
<polygon points="82.5,95.7 87.3,96.0 87.3,105.5 83.3,106.0" fill="#dfeedc"/>
<path d="M50.4,91.7 L84.5,86.1 L152.8,90.0 Q155.6,90.4 155.6,92.8 L155.6,96.0 Q155.6,98.4 153,98.3 L85,95.2 L50.4,99.7 Z" fill="#ddecda"/>
<polyline points="50.4,99.4 85.0,95.0 153.6,97.9" fill="none" stroke="#d3e1d0" stroke-width="1.8"/>
<polyline points="72.3,89.5 84.8,87.2 134.5,90.7" fill="none" stroke="#edf6eb" stroke-width="1.7"/>
<polygon points="66.0,111.2 137.0,110.3 138.9,118.1 135.5,136.2 71.5,136.2 67.3,117.5" fill="#dfeddc" stroke="#ecf3ea" stroke-width="1"/>
<polygon points="73.0,119.0 84.0,119.0 85.0,135.4 76.0,135.4" fill="#dbebd8"/>
<polygon points="124.0,119.0 133.0,119.0 131.5,135.4 125.0,135.4" fill="#dbebd8"/>
<path d="M67.2,117.8 L69.9,124.9" stroke="#d2e1cf" stroke-width="2.2" fill="none"/>
<path d="M50.4,109.5 L84.5,105.2 L152.8,108.1 Q155.6,108.5 155.6,110.9 L155.6,114.2 Q155.6,116.6 153,116.5 L85,114.2 L50.4,117.5 Z" fill="#ddecda"/>
<polyline points="50.4,117.2 85.0,114.0 153.6,116.1" fill="none" stroke="#d3e1d0" stroke-width="1.8"/>
<polyline points="72.3,108.1 84.8,106.3 134.5,109.0" fill="none" stroke="#edf6eb" stroke-width="1.7"/>
<path d="M76.7,6.3 L77.5,6.3 L78.4,21.4 L83.6,22.4 L83.6,23.0 L78.4,24.0 L77.5,40.6 L76.7,40.6 L75.8,24.0 L71.0,23.0 L71.0,22.4 L75.8,21.4 Z" fill="#f5f3de" fill-opacity="0.75"/>
<path d="M91.0,17.4 L91.8,17.4 L92.3,24.7 L96.4,25.3 L96.4,25.9 L92.3,26.5 L91.8,39.1 L91.0,39.1 L90.5,26.5 L87.9,25.9 L87.9,25.3 L90.5,24.7 Z" fill="#f5f3de" fill-opacity="0.75"/>
<path d="M101.7,7.0 L102.5,7.0 L103.4,17.8 L109.3,18.8 L109.3,19.4 L103.4,20.4 L102.5,36.8 L101.7,36.8 L100.8,20.4 L95.7,19.4 L95.7,18.8 L100.8,17.8 Z" fill="#f5f3de" fill-opacity="0.75"/>
<path d="M120.0,22.0 L120.8,22.0 L121.7,31.3 L125.6,32.3 L125.6,32.9 L121.7,33.9 L120.8,50.0 L120.0,50.0 L119.1,33.9 L115.0,32.9 L115.0,32.3 L119.1,31.3 Z" fill="#f5f3de" fill-opacity="0.75"/>
<path d="M131.1,13.0 L131.9,13.0 L132.4,23.2 L134.5,23.8 L134.5,24.4 L132.4,25.0 L131.9,37.8 L131.1,37.8 L130.6,25.0 L128.5,24.4 L128.5,23.8 L130.6,23.2 Z" fill="#f5f3de" fill-opacity="0.75"/>
<g>
<path d="M63.6,226 L142.9,204 L143.3,212.5 Q143,214 141,214.6 L127.5,218.5 L126,227.5 L88,236.3 L71,231.5 L63.6,229.8 L41.6,211 L41.6,206 Z" fill="#d9ead6" stroke="#efefef" stroke-width="1" stroke-linejoin="round"/>
<path d="M72,231 L126.5,218.5 L125.8,227 L88,236 Z" fill="#dfeddc"/>
<path d="M43.2,204.3 Q40.5,205.8 42.7,208 L62,224.7 Q64,226.5 67,225.7 L141,205 Q144.2,203.8 142.2,201.5 L127,184.5 Q125,182.5 122,183.2 Z" fill="#e0eedd" stroke="#e8f2e6" stroke-width="1.2"/>
<path d="M43,207.6 L62.6,224.6 Q64.3,226 67,225.2 L141.6,204.4" fill="none" stroke="#ebf5e9" stroke-width="1.6" stroke-linejoin="round"/>
<path d="M42.6,203.6 L122,182.3 Q125.6,181.5 127.8,183.8 L143.3,200.8" fill="none" stroke="#f6f6f6" stroke-width="0.9" stroke-dasharray="1.6 1.6"/>
<path d="M57.1,206.3 L114.3,190.6 L125.7,204.1 L67.9,219.1 Z" fill="#dbead8" stroke="#ecf5ea" stroke-width="2.3" stroke-linejoin="round"/>
<path d="M70,215 L112,203.5 L121.5,203.5" fill="none" stroke="#d5e5d2" stroke-width="1"/>
<path d="M109.5,196 L113,203" fill="none" stroke="#d5e5d2" stroke-width="1.4"/>
</g>
<g><path d="M143.2,231.3 L143.2,235.7 A8.8,4.2 0 0 0 160.8,235.7 L160.8,231.3 Z" fill="#e9e7e6" stroke="#f2f2f2" stroke-width="1.1" stroke-dasharray="3.6 0.8"/><ellipse cx="152" cy="231.3" rx="8.8" ry="4.2" fill="#f2f0ef" stroke="#f2f2f2" stroke-width="1.1" stroke-dasharray="3.6 0.8"/><path d="M143.6,232.6 A8.6,4.1 0 0 0 160.4,232.6" fill="none" stroke="#dddbda" stroke-width="0.7"/></g>
<rect x="49" y="30" width="1" height="176" fill="#675e61"/><rect x="46" y="118" width="125" height="1" fill="#675e61"/>
<polyline points="50.3,119 50.9,124.7 52,129.6 52.8,134.5 53.6,140.4 54.6,138.4 55.6,135.5 56.7,139.4 57.7,144.3 58.5,150.2 59.7,156.1 60.6,161.8 61,166.2 62.2,167.7 62.9,167.2 63.5,163.6 64.2,168.2 65.7,174.1 67.1,180.5 68.4,185.9 68.8,191.8 69.6,195.2 70.4,190.3 71.4,184.4 72.5,181.5 73.7,186.4 74.5,181.3 75.5,187.4 76.5,192.3 77.3,185.9 78,178.5 78.9,170.2 79.6,162.8 80.4,156.4 81.5,152 82.2,157.9 83.2,163.8 83.8,168.2 84.5,166.7 85.3,170.2 86.5,173.1 87.8,173.6 88.5,177.5 89.2,173.1 90.4,172.6 91.7,175.6 92.7,179.5 93.4,172.6 94.4,176.1 95.3,181.5 96.6,187.4 97.6,194.2 98.3,187.8 99.1,189.8 100,193.7 101.2,200.6 102.2,189.8 103.2,194.2 104.2,199.1 105.4,204.5 106.7,191.3 107.6,181.5 108.4,174.6 109.6,180.5 111.1,188.3 112.5,196.2 113.7,202.1 114.3,204.5 115.5,198.2 116.5,190.3 117.3,182.4 118.2,174.6 119.2,166.7 119.6,159.9 120.2,154 120.6,150.1 121.6,143.2 122.4,136.4 123,129.5 123.7,120.7 124.5,121.6 125.3,125.6 126,119.7 126.7,116.7 127.5,115.3 127.7,118.7 128.4,121.6" fill="none" stroke="#007e00" stroke-width="1.05" stroke-linejoin="round" stroke-linecap="round"/>
<text x="2.4" y="240" font-family="'DejaVu Sans','Liberation Sans',sans-serif" font-size="9" fill="#000" stroke="#000" stroke-width="0.18"><tspan x="2.4" textLength="11" lengthAdjust="spacingAndGlyphs">(C)</tspan> <tspan x="17.05" textLength="37.5" lengthAdjust="spacing">Daikoku</tspan> <tspan x="57.1" textLength="29" lengthAdjust="spacing">Denki.</tspan></text>
</svg></div>
</div>
</body>
</html>
